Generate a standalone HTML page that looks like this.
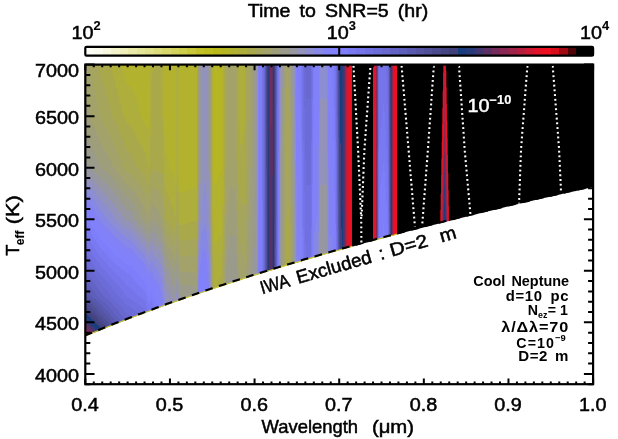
<!DOCTYPE html>
<html><head><meta charset="utf-8"><title>Time to SNR=5</title>
<style>html,body{margin:0;padding:0;background:#fff;overflow:hidden}svg{display:block;will-change:transform}text{font-family:"Liberation Sans",sans-serif;fill:#000}.r text{stroke:#000;stroke-width:0.5px}.r .b{stroke-width:0.15px}</style></head><body>
<svg width="618" height="439" viewBox="0 0 618 439">
<rect width="618" height="439" fill="#fff"/>
<g shape-rendering="crispEdges">
<path fill="#b6b624" d="M214 65v119h1v-119zM215 65v119h1v-119zM216 65v116h1v-116zM217 65v114h1v-114zM218 65v111h1v-111zM219 65v109h1v-109zM220 65v107h1v-107zM221 65v106h1v-106z"/>
<path fill="#b2b22f" d="M122 65v3h1v-3zM123 65v7h1v-7zM124 65v11h1v-11zM125 65v14h1v-14zM126 65v18h1v-18zM127 65v20h1v-20zM128 65v21h1v-21zM129 65v21h1v-21zM130 65v22h1v-22zM131 65v23h1v-23zM132 65v25h1v-25zM133 65v26h1v-26zM134 65v28h1v-28zM135 65v31h1v-31zM136 65v33h1v-33zM137 65v37h1v-37zM138 65v40h1v-40zM139 65v44h1v-44zM140 65v50h1v-50zM141 65v53h1v-53zM142 65v54h1v-54zM143 65v56h1v-56zM144 65v58h1v-58zM145 65v60h1v-60zM146 65v61h1v-61zM147 65v62h1v-62zM148 65v63h1v-63zM149 65v51h1v-51zM164 65v68h1v-68zM165 65v87h1v-87zM166 65v89h1v-89zM167 65v92h1v-92zM168 65v96h1v-96zM169 65v100h1v-100zM170 65v104h1v-104zM171 65v106h1v-106zM172 65v108h1v-108zM173 65v110h1v-110zM174 65v112h1v-112zM175 65v115h1v-115zM179 65v127h1v-127zM180 65v128h1v-128zM181 65v128h1v-128zM182 65v127h1v-127zM183 65v127h1v-127zM184 65v127h1v-127zM185 65v126h1v-126zM186 65v126h1v-126zM187 65v126h1v-126zM188 65v125h1v-125zM189 65v125h1v-125zM190 65v125h1v-125zM191 65v124h1v-124zM192 65v124h1v-124zM193 65v124h1v-124zM194 65v123h1v-123zM195 65v124h1v-124zM196 65v124h1v-124zM213 65v158h1v-158zM214 184v59h1v-59zM215 184v60h1v-60zM216 181v61h1v-61zM217 179v61h1v-61zM218 176v62h1v-62zM219 174v62h1v-62zM220 172v62h1v-62zM221 171v61h1v-61zM222 65v140h1v-140z"/>
<path fill="#aeae3c" d="M110 65v1h1v-1zM111 65v5h1v-5zM112 65v8h1v-8zM113 65v12h1v-12zM114 65v15h1v-15zM115 65v19h1v-19zM116 65v23h1v-23zM117 65v26h1v-26zM118 65v30h1v-30zM119 65v34h1v-34zM120 65v38h1v-38zM121 65v42h1v-42zM122 68v43h1v-43zM123 72v43h1v-43zM124 76v42h1v-42zM125 79v41h1v-41zM126 83v40h1v-40zM127 85v39h1v-39zM128 86v38h1v-38zM129 86v39h1v-39zM130 87v39h1v-39zM131 88v39h1v-39zM132 90v39h1v-39zM133 91v40h1v-40zM134 93v40h1v-40zM135 96v39h1v-39zM136 98v39h1v-39zM137 102v37h1v-37zM138 105v36h1v-36zM139 109v33h1v-33zM140 115v29h1v-29zM141 118v28h1v-28zM142 119v29h1v-29zM143 121v29h1v-29zM144 123v29h1v-29zM145 125v29h1v-29zM146 126v32h1v-32zM147 127v36h1v-36zM148 128v40h1v-40zM149 116v46h1v-46zM150 65v72h1v-72zM151 65v17h1v-17zM152 65v7h1v-7zM161 65v22h1v-22zM162 65v53h1v-53zM163 65v93h1v-93zM164 133v46h1v-46zM165 152v37h1v-37zM166 154v37h1v-37zM167 157v36h1v-36zM168 161v35h1v-35zM169 165v34h1v-34zM170 169v32h1v-32zM171 171v33h1v-33zM172 173v34h1v-34zM173 175v35h1v-35zM174 177v37h1v-37zM175 180v37h1v-37zM176 65v121h1v-121zM177 65v113h1v-113zM178 65v127h1v-127zM179 192v33h1v-33zM180 193v32h1v-32zM181 193v32h1v-32zM182 192v33h1v-33zM183 192v33h1v-33zM184 192v32h1v-32zM185 191v33h1v-33zM186 191v33h1v-33zM187 191v32h1v-32zM188 190v33h1v-33zM189 190v33h1v-33zM190 190v32h1v-32zM191 189v33h1v-33zM192 189v33h1v-33zM193 189v32h1v-32zM194 188v33h1v-33zM195 189v32h1v-32zM196 189v33h1v-33zM212 65v156h1v-156zM213 223v39h1v-39zM214 243v41h1v-41zM215 244v43h1v-43zM216 242v43h1v-43zM217 240v43h1v-43zM218 238v43h1v-43zM219 236v43h1v-43zM220 234v43h1v-43zM221 232v43h1v-43zM222 205v48h1v-48zM223 65v144h1v-144zM239 65v60h1v-60zM240 65v78h1v-78zM241 65v85h1v-85zM242 65v79h1v-79zM243 65v73h1v-73zM244 65v66h1v-66z"/>
<path fill="#a9a94b" d="M99 65v6h1v-6zM100 65v10h1v-10zM101 65v13h1v-13zM102 65v17h1v-17zM103 65v20h1v-20zM104 65v24h1v-24zM105 65v27h1v-27zM106 65v31h1v-31zM107 65v34h1v-34zM108 65v37h1v-37zM109 65v41h1v-41zM110 66v43h1v-43zM111 70v43h1v-43zM112 73v43h1v-43zM113 77v41h1v-41zM114 80v40h1v-40zM115 84v38h1v-38zM116 88v36h1v-36zM117 91v36h1v-36zM118 95v34h1v-34zM119 99v33h1v-33zM120 103v31h1v-31zM121 107v30h1v-30zM122 111v28h1v-28zM123 115v27h1v-27zM124 118v27h1v-27zM125 120v27h1v-27zM126 123v27h1v-27zM127 124v28h1v-28zM128 124v28h1v-28zM129 125v28h1v-28zM130 126v28h1v-28zM131 127v29h1v-29zM132 129v29h1v-29zM133 131v29h1v-29zM134 133v29h1v-29zM135 135v29h1v-29zM136 137v28h1v-28zM137 139v28h1v-28zM138 141v27h1v-27zM139 142v27h1v-27zM140 144v27h1v-27zM141 146v26h1v-26zM142 148v25h1v-25zM143 150v24h1v-24zM144 152v23h1v-23zM145 154v23h1v-23zM146 158v22h1v-22zM147 163v20h1v-20zM148 168v17h1v-17zM149 162v21h1v-21zM150 137v38h1v-38zM151 82v84h1v-84zM152 72v97h1v-97zM153 65v106h1v-106zM154 65v107h1v-107zM155 65v107h1v-107zM156 65v106h1v-106zM157 65v106h1v-106zM158 65v106h1v-106zM159 65v107h1v-107zM160 65v108h1v-108zM161 87v87h1v-87zM162 118v56h1v-56zM163 158v32h1v-32zM164 179v28h1v-28zM165 189v29h1v-29zM166 191v29h1v-29zM167 193v28h1v-28zM168 196v26h1v-26zM169 199v25h1v-25zM170 201v24h1v-24zM171 204v22h1v-22zM172 207v21h1v-21zM173 210v19h1v-19zM174 214v17h1v-17zM175 217v16h1v-16zM176 186v35h1v-35zM177 178v39h1v-39zM178 192v32h1v-32zM179 225v15h1v-15zM180 225v16h1v-16zM181 225v16h1v-16zM182 225v16h1v-16zM183 225v15h1v-15zM184 224v16h1v-16zM185 224v16h1v-16zM186 224v16h1v-16zM187 223v17h1v-17zM188 223v17h1v-17zM189 223v16h1v-16zM190 222v17h1v-17zM191 222v17h1v-17zM192 222v17h1v-17zM193 221v17h1v-17zM194 221v17h1v-17zM195 221v18h1v-18zM196 222v18h1v-18zM212 221v36h1v-36zM213 262v27h1v-27zM214 284v5h1v-5zM215 287v2h1v-2zM216 285v3h1v-3zM217 283v5h1v-5zM218 281v7h1v-7zM219 279v8h1v-8zM220 277v10h1v-10zM221 275v12h1v-12zM222 253v33h1v-33zM223 209v46h1v-46zM224 65v148h1v-148zM225 65v69h1v-69zM237 65v85h1v-85zM238 65v118h1v-118zM239 125v65h1v-65zM240 143v56h1v-56zM241 150v55h1v-55zM242 144v61h1v-61zM243 138v67h1v-67zM244 131v74h1v-74zM245 65v120h1v-120zM286 218v48h1v-48zM287 152v114h1v-114zM288 207v59h1v-59zM289 258v7h1v-7z"/>
<path fill="#a5a55b" d="M90 65v3h1v-3zM91 65v9h1v-9zM92 65v14h1v-14zM93 65v20h1v-20zM94 65v25h1v-25zM95 65v30h1v-30zM96 65v35h1v-35zM97 65v40h1v-40zM98 65v45h1v-45zM99 71v43h1v-43zM100 75v42h1v-42zM101 78v41h1v-41zM102 82v39h1v-39zM103 85v38h1v-38zM104 89v36h1v-36zM105 92v35h1v-35zM106 96v33h1v-33zM107 99v32h1v-32zM108 102v31h1v-31zM109 106v29h1v-29zM110 109v28h1v-28zM111 113v26h1v-26zM112 116v25h1v-25zM113 118v25h1v-25zM114 120v25h1v-25zM115 122v25h1v-25zM116 124v25h1v-25zM117 127v25h1v-25zM118 129v26h1v-26zM119 132v25h1v-25zM120 134v26h1v-26zM121 137v26h1v-26zM122 139v27h1v-27zM123 142v26h1v-26zM124 145v24h1v-24zM125 147v24h1v-24zM126 150v22h1v-22zM127 152v21h1v-21zM128 152v21h1v-21zM129 153v21h1v-21zM130 154v20h1v-20zM131 156v19h1v-19zM132 158v18h1v-18zM133 160v17h1v-17zM134 162v16h1v-16zM135 164v15h1v-15zM136 165v16h1v-16zM137 167v15h1v-15zM138 168v15h1v-15zM139 169v15h1v-15zM140 171v15h1v-15zM141 172v15h1v-15zM142 173v16h1v-16zM143 174v16h1v-16zM144 175v17h1v-17zM145 177v17h1v-17zM146 180v17h1v-17zM147 183v17h1v-17zM148 185v17h1v-17zM149 183v17h1v-17zM150 175v17h1v-17zM151 166v18h1v-18zM152 169v17h1v-17zM153 171v17h1v-17zM154 172v17h1v-17zM155 172v18h1v-18zM156 171v18h1v-18zM157 171v19h1v-19zM158 171v20h1v-20zM159 172v21h1v-21zM160 173v22h1v-22zM161 174v23h1v-23zM162 174v25h1v-25zM163 190v26h1v-26zM164 207v19h1v-19zM165 218v12h1v-12zM166 220v12h1v-12zM167 221v12h1v-12zM168 222v13h1v-13zM169 224v12h1v-12zM170 225v13h1v-13zM171 226v13h1v-13zM172 228v13h1v-13zM173 229v14h1v-14zM174 231v14h1v-14zM175 233v14h1v-14zM176 221v14h1v-14zM177 217v16h1v-16zM178 224v15h1v-15zM179 240v16h1v-16zM180 241v16h1v-16zM181 241v16h1v-16zM182 241v16h1v-16zM183 240v16h1v-16zM184 240v16h1v-16zM185 240v16h1v-16zM186 240v16h1v-16zM187 240v16h1v-16zM188 240v16h1v-16zM189 239v17h1v-17zM190 239v17h1v-17zM191 239v17h1v-17zM192 239v17h1v-17zM193 238v17h1v-17zM194 238v17h1v-17zM195 239v17h1v-17zM196 240v18h1v-18zM197 65v138h1v-138zM211 65v134h1v-134zM212 257v33h1v-33zM223 255v31h1v-31zM224 213v45h1v-45zM225 134v84h1v-84zM226 65v103h1v-103zM227 65v71h1v-71zM236 65v96h1v-96zM237 150v54h1v-54zM238 183v44h1v-44zM239 190v43h1v-43zM240 199v44h1v-44zM241 205v47h1v-47zM242 205v49h1v-49zM243 205v52h1v-52zM244 205v55h1v-55zM245 185v59h1v-59zM246 65v139h1v-139zM247 65v105h1v-105zM248 65v57h1v-57zM284 264v3h1v-3zM285 154v113h1v-113zM286 88v130h1v-130zM287 65v87h1v-87zM288 86v121h1v-121zM289 141v117h1v-117zM290 225v40h1v-40z"/>
<path fill="#a2a26a" d="M86 65v32h1v-32zM87 65v38h1v-38zM88 65v43h1v-43zM89 65v49h1v-49zM90 68v49h1v-49zM91 74v46h1v-46zM92 79v44h1v-44zM93 85v40h1v-40zM94 90v38h1v-38zM95 95v35h1v-35zM96 100v33h1v-33zM97 105v30h1v-30zM98 110v27h1v-27zM99 114v26h1v-26zM100 117v25h1v-25zM101 119v25h1v-25zM102 121v25h1v-25zM103 123v25h1v-25zM104 125v25h1v-25zM105 127v24h1v-24zM106 129v24h1v-24zM107 131v24h1v-24zM108 133v24h1v-24zM109 135v24h1v-24zM110 137v24h1v-24zM111 139v24h1v-24zM112 141v24h1v-24zM113 143v24h1v-24zM114 145v23h1v-23zM115 147v23h1v-23zM116 149v22h1v-22zM117 152v20h1v-20zM118 155v19h1v-19zM119 157v18h1v-18zM120 160v16h1v-16zM121 163v15h1v-15zM122 166v13h1v-13zM123 168v12h1v-12zM124 169v13h1v-13zM125 171v12h1v-12zM126 172v12h1v-12zM127 173v12h1v-12zM128 173v13h1v-13zM129 174v12h1v-12zM130 174v13h1v-13zM131 175v13h1v-13zM132 176v13h1v-13zM133 177v13h1v-13zM134 178v14h1v-14zM135 179v14h1v-14zM136 181v14h1v-14zM137 182v14h1v-14zM138 183v15h1v-15zM139 184v15h1v-15zM140 186v15h1v-15zM141 187v16h1v-16zM142 189v16h1v-16zM143 190v17h1v-17zM144 192v17h1v-17zM145 194v18h1v-18zM146 197v17h1v-17zM147 200v17h1v-17zM148 202v17h1v-17zM149 200v17h1v-17zM150 192v17h1v-17zM151 184v18h1v-18zM152 186v17h1v-17zM153 188v17h1v-17zM154 189v18h1v-18zM155 190v17h1v-17zM156 189v19h1v-19zM157 190v19h1v-19zM158 191v20h1v-20zM159 193v21h1v-21zM160 195v22h1v-22zM161 197v23h1v-23zM162 199v22h1v-22zM163 216v13h1v-13zM164 226v11h1v-11zM165 230v12h1v-12zM166 232v11h1v-11zM167 233v12h1v-12zM168 235v12h1v-12zM169 236v13h1v-13zM170 238v12h1v-12zM171 239v13h1v-13zM172 241v13h1v-13zM173 243v13h1v-13zM174 245v14h1v-14zM175 247v14h1v-14zM176 235v15h1v-15zM177 233v15h1v-15zM178 239v15h1v-15zM179 256v15h1v-15zM180 257v15h1v-15zM181 257v15h1v-15zM182 257v15h1v-15zM183 256v16h1v-16zM184 256v16h1v-16zM185 256v16h1v-16zM186 256v16h1v-16zM187 256v16h1v-16zM188 256v16h1v-16zM189 256v16h1v-16zM190 256v16h1v-16zM191 256v16h1v-16zM192 256v16h1v-16zM193 255v17h1v-17zM194 255v17h1v-17zM195 256v17h1v-17zM196 258v17h1v-17zM197 203v27h1v-27zM211 199v44h1v-44zM224 258v28h1v-28zM225 218v43h1v-43zM226 168v57h1v-57zM227 136v78h1v-78zM228 65v138h1v-138zM229 65v126h1v-126zM230 65v121h1v-121zM231 65v122h1v-122zM232 65v123h1v-123zM233 65v124h1v-124zM234 65v125h1v-125zM235 65v125h1v-125zM236 161v50h1v-50zM237 204v44h1v-44zM238 227v43h1v-43zM239 233v43h1v-43zM240 243v38h1v-38zM241 252v28h1v-28zM242 254v26h1v-26zM243 257v23h1v-23zM244 260v19h1v-19zM245 244v35h1v-35zM246 204v64h1v-64zM247 170v69h1v-69zM248 122v97h1v-97zM249 65v131h1v-131zM250 65v103h1v-103zM284 124v140h1v-140zM285 65v89h1v-89zM286 65v23h1v-23zM288 65v21h1v-21zM289 65v76h1v-76zM290 112v113h1v-113zM291 226v39h1v-39z"/>
<path fill="#9e9e7a" d="M86 97v37h1v-37zM87 103v34h1v-34zM88 108v32h1v-32zM89 114v28h1v-28zM90 117v27h1v-27zM91 120v27h1v-27zM92 123v26h1v-26zM93 125v26h1v-26zM94 128v26h1v-26zM95 130v26h1v-26zM96 133v25h1v-25zM97 135v25h1v-25zM98 137v25h1v-25zM99 140v24h1v-24zM100 142v24h1v-24zM101 144v24h1v-24zM102 146v23h1v-23zM103 148v22h1v-22zM104 150v21h1v-21zM105 151v21h1v-21zM106 153v19h1v-19zM107 155v18h1v-18zM108 157v17h1v-17zM109 159v16h1v-16zM110 161v15h1v-15zM111 163v14h1v-14zM112 165v13h1v-13zM113 167v13h1v-13zM114 168v13h1v-13zM115 170v12h1v-12zM116 171v12h1v-12zM117 172v13h1v-13zM118 174v12h1v-12zM119 175v12h1v-12zM120 176v13h1v-13zM121 178v12h1v-12zM122 179v12h1v-12zM123 180v13h1v-13zM124 182v12h1v-12zM125 183v12h1v-12zM126 184v13h1v-13zM127 185v13h1v-13zM128 186v12h1v-12zM129 186v12h1v-12zM130 187v12h1v-12zM131 188v12h1v-12zM132 189v13h1v-13zM133 190v14h1v-14zM134 192v13h1v-13zM135 193v14h1v-14zM136 195v14h1v-14zM137 196v14h1v-14zM138 198v14h1v-14zM139 199v15h1v-15zM140 201v16h1v-16zM141 203v16h1v-16zM142 205v15h1v-15zM143 207v14h1v-14zM144 209v14h1v-14zM145 212v12h1v-12zM146 214v11h1v-11zM147 217v10h1v-10zM148 219v10h1v-10zM149 217v10h1v-10zM150 209v14h1v-14zM151 202v17h1v-17zM152 203v17h1v-17zM153 205v16h1v-16zM154 207v15h1v-15zM155 207v16h1v-16zM156 208v15h1v-15zM157 209v15h1v-15zM158 211v15h1v-15zM159 214v14h1v-14zM160 217v12h1v-12zM161 220v11h1v-11zM162 221v12h1v-12zM163 229v12h1v-12zM164 237v12h1v-12zM165 242v11h1v-11zM166 243v12h1v-12zM167 245v12h1v-12zM168 247v12h1v-12zM169 249v12h1v-12zM170 250v13h1v-13zM171 252v13h1v-13zM172 254v13h1v-13zM173 256v14h1v-14zM174 259v13h1v-13zM175 261v14h1v-14zM176 250v14h1v-14zM177 248v15h1v-15zM178 254v15h1v-15zM179 271v12h1v-12zM180 272v12h1v-12zM181 272v12h1v-12zM182 272v13h1v-13zM183 272v13h1v-13zM184 272v13h1v-13zM185 272v13h1v-13zM186 272v13h1v-13zM187 272v13h1v-13zM188 272v13h1v-13zM189 272v14h1v-14zM190 272v14h1v-14zM191 272v14h1v-14zM192 272v14h1v-14zM193 272v14h1v-14zM194 272v14h1v-14zM195 273v15h1v-15zM196 275v15h1v-15zM197 230v18h1v-18zM198 65v115h1v-115zM210 65v113h1v-113zM211 243v34h1v-34zM225 261v24h1v-24zM226 225v43h1v-43zM227 214v45h1v-45zM228 203v46h1v-46zM229 191v49h1v-49zM230 186v50h1v-50zM231 187v49h1v-49zM232 188v48h1v-48zM233 189v47h1v-47zM234 190v46h1v-46zM235 190v46h1v-46zM236 211v43h1v-43zM237 248v34h1v-34zM238 270v11h1v-11zM239 276v5h1v-5zM246 268v11h1v-11zM247 239v39h1v-39zM248 219v59h1v-59zM249 196v82h1v-82zM250 168v90h1v-90zM251 65v168h1v-168zM252 65v133h1v-133zM253 65v74h1v-74zM282 240v27h1v-27zM283 134v133h1v-133zM284 65v59h1v-59zM290 65v47h1v-47zM291 116v110h1v-110zM292 202v62h1v-62zM293 260v4h1v-4z"/>
<path fill="#9b9b8b" d="M86 134v29h1v-29zM87 137v28h1v-28zM88 140v27h1v-27zM89 142v26h1v-26zM90 144v25h1v-25zM91 147v23h1v-23zM92 149v21h1v-21zM93 151v20h1v-20zM94 154v18h1v-18zM95 156v17h1v-17zM96 158v16h1v-16zM97 160v15h1v-15zM98 162v14h1v-14zM99 164v13h1v-13zM100 166v12h1v-12zM101 168v11h1v-11zM102 169v11h1v-11zM103 170v11h1v-11zM104 171v11h1v-11zM105 172v11h1v-11zM106 172v12h1v-12zM107 173v12h1v-12zM108 174v12h1v-12zM109 175v12h1v-12zM110 176v12h1v-12zM111 177v12h1v-12zM112 178v12h1v-12zM113 180v12h1v-12zM114 181v12h1v-12zM115 182v12h1v-12zM116 183v12h1v-12zM117 185v12h1v-12zM118 186v12h1v-12zM119 187v13h1v-13zM120 189v12h1v-12zM121 190v12h1v-12zM122 191v13h1v-13zM123 193v12h1v-12zM124 194v12h1v-12zM125 195v13h1v-13zM126 197v12h1v-12zM127 198v12h1v-12zM128 198v12h1v-12zM129 198v12h1v-12zM130 199v12h1v-12zM131 200v13h1v-13zM132 202v13h1v-13zM133 204v13h1v-13zM134 205v14h1v-14zM135 207v13h1v-13zM136 209v12h1v-12zM137 210v12h1v-12zM138 212v12h1v-12zM139 214v11h1v-11zM140 217v9h1v-9zM141 219v8h1v-8zM142 220v8h1v-8zM143 221v9h1v-9zM144 223v8h1v-8zM145 224v8h1v-8zM146 225v9h1v-9zM147 227v9h1v-9zM148 229v9h1v-9zM149 227v10h1v-10zM150 223v10h1v-10zM151 219v10h1v-10zM152 220v10h1v-10zM153 221v11h1v-11zM154 222v11h1v-11zM155 223v11h1v-11zM156 223v12h1v-12zM157 224v12h1v-12zM158 226v12h1v-12zM159 228v11h1v-11zM160 229v12h1v-12zM161 231v12h1v-12zM162 233v11h1v-11zM163 241v11h1v-11zM164 249v11h1v-11zM165 253v12h1v-12zM166 255v12h1v-12zM167 257v12h1v-12zM168 259v12h1v-12zM169 261v13h1v-13zM170 263v14h1v-14zM171 265v15h1v-15zM172 267v16h1v-16zM173 270v15h1v-15zM174 272v15h1v-15zM175 275v14h1v-14zM176 264v14h1v-14zM177 263v14h1v-14zM178 269v13h1v-13zM179 283v13h1v-13zM180 284v13h1v-13zM181 284v13h1v-13zM182 285v12h1v-12zM183 285v13h1v-13zM184 285v13h1v-13zM185 285v14h1v-14zM186 285v14h1v-14zM187 285v13h1v-13zM188 285v13h1v-13zM189 286v12h1v-12zM190 286v11h1v-11zM191 286v11h1v-11zM192 286v11h1v-11zM193 286v10h1v-10zM194 286v10h1v-10zM195 288v7h1v-7zM196 290v5h1v-5zM197 248v19h1v-19zM198 180v38h1v-38zM210 178v53h1v-53zM211 277v13h1v-13zM226 268v17h1v-17zM227 259v26h1v-26zM228 249v35h1v-35zM229 240v43h1v-43zM230 236v43h1v-43zM231 236v43h1v-43zM232 236v43h1v-43zM233 236v43h1v-43zM234 236v43h1v-43zM235 236v43h1v-43zM236 254v28h1v-28zM250 258v19h1v-19zM251 233v44h1v-44zM252 198v79h1v-79zM253 139v137h1v-137zM254 65v183h1v-183zM255 65v112h1v-112zM281 137v131h1v-131zM282 88v152h1v-152zM283 65v69h1v-69zM291 65v51h1v-51zM292 96v106h1v-106zM293 157v103h1v-103z"/>
<path fill="#9797a1" d="M86 163v12h1v-12zM87 165v10h1v-10zM88 167v9h1v-9zM89 168v9h1v-9zM90 169v9h1v-9zM91 170v9h1v-9zM92 170v10h1v-10zM93 171v10h1v-10zM94 172v10h1v-10zM95 173v10h1v-10zM96 174v10h1v-10zM97 175v10h1v-10zM98 176v10h1v-10zM99 177v10h1v-10zM100 178v11h1v-11zM101 179v11h1v-11zM102 180v11h1v-11zM103 181v11h1v-11zM104 182v11h1v-11zM105 183v11h1v-11zM106 184v11h1v-11zM107 185v11h1v-11zM108 186v12h1v-12zM109 187v12h1v-12zM110 188v12h1v-12zM111 189v12h1v-12zM112 190v12h1v-12zM113 192v12h1v-12zM114 193v12h1v-12zM115 194v12h1v-12zM116 195v13h1v-13zM117 197v12h1v-12zM118 198v12h1v-12zM119 200v12h1v-12zM120 201v12h1v-12zM121 202v13h1v-13zM122 204v12h1v-12zM123 205v12h1v-12zM124 206v13h1v-13zM125 208v12h1v-12zM126 209v12h1v-12zM127 210v11h1v-11zM128 210v11h1v-11zM129 210v12h1v-12zM130 211v11h1v-11zM131 213v11h1v-11zM132 215v10h1v-10zM133 217v9h1v-9zM134 219v8h1v-8zM135 220v8h1v-8zM136 221v9h1v-9zM137 222v9h1v-9zM138 224v8h1v-8zM139 225v8h1v-8zM140 226v8h1v-8zM141 227v9h1v-9zM142 228v9h1v-9zM143 230v8h1v-8zM144 231v8h1v-8zM145 232v8h1v-8zM146 234v8h1v-8zM147 236v9h1v-9zM148 238v9h1v-9zM149 237v9h1v-9zM150 233v10h1v-10zM151 229v10h1v-10zM152 230v11h1v-11zM153 232v11h1v-11zM154 233v12h1v-12zM155 234v12h1v-12zM156 235v11h1v-11zM157 236v11h1v-11zM158 238v11h1v-11zM159 239v12h1v-12zM160 241v11h1v-11zM161 243v11h1v-11zM162 244v12h1v-12zM163 252v12h1v-12zM164 260v12h1v-12zM165 265v16h1v-16zM166 267v17h1v-17zM167 269v18h1v-18zM168 271v19h1v-19zM169 274v18h1v-18zM170 277v17h1v-17zM171 280v16h1v-16zM172 283v15h1v-15zM173 285v15h1v-15zM174 287v15h1v-15zM175 289v13h1v-13zM176 278v14h1v-14zM177 277v13h1v-13zM178 282v13h1v-13zM179 296v5h1v-5zM180 297v4h1v-4zM181 297v3h1v-3zM182 297v3h1v-3zM183 298v2h1v-2zM184 298v1h1v-1zM197 267v16h1v-16zM198 218v20h1v-20zM199 65v134h1v-134zM200 65v119h1v-119zM201 65v103h1v-103zM208 65v108h1v-108zM209 65v145h1v-145zM210 231v32h1v-32zM229 283v1h1v-1zM230 279v5h1v-5zM231 279v4h1v-4zM232 279v4h1v-4zM233 279v4h1v-4zM234 279v3h1v-3zM235 279v3h1v-3zM254 248v28h1v-28zM255 177v99h1v-99zM256 65v210h1v-210zM280 148v120h1v-120zM281 65v72h1v-72zM282 65v23h1v-23zM292 65v31h1v-31zM293 65v92h1v-92zM294 164v100h1v-100zM320 185v71h1v-71zM321 185v71h1v-71zM322 185v71h1v-71zM323 185v70h1v-70zM324 185v70h1v-70zM325 185v70h1v-70zM326 185v69h1v-69z"/>
<path fill="#9292ba" d="M86 175v8h1v-8zM87 175v9h1v-9zM88 176v9h1v-9zM89 177v9h1v-9zM90 178v9h1v-9zM91 179v9h1v-9zM92 180v9h1v-9zM93 181v9h1v-9zM94 182v9h1v-9zM95 183v10h1v-10zM96 184v10h1v-10zM97 185v10h1v-10zM98 186v11h1v-11zM99 187v11h1v-11zM100 189v10h1v-10zM101 190v11h1v-11zM102 191v11h1v-11zM103 192v11h1v-11zM104 193v11h1v-11zM105 194v11h1v-11zM106 195v12h1v-12zM107 196v12h1v-12zM108 198v11h1v-11zM109 199v11h1v-11zM110 200v12h1v-12zM111 201v12h1v-12zM112 202v12h1v-12zM113 204v12h1v-12zM114 205v12h1v-12zM115 206v13h1v-13zM116 208v12h1v-12zM117 209v12h1v-12zM118 210v12h1v-12zM119 212v11h1v-11zM120 213v11h1v-11zM121 215v10h1v-10zM122 216v10h1v-10zM123 217v10h1v-10zM124 219v9h1v-9zM125 220v8h1v-8zM126 221v8h1v-8zM127 221v9h1v-9zM128 221v9h1v-9zM129 222v8h1v-8zM130 222v9h1v-9zM131 224v8h1v-8zM132 225v8h1v-8zM133 226v9h1v-9zM134 227v9h1v-9zM135 228v9h1v-9zM136 230v8h1v-8zM137 231v8h1v-8zM138 232v8h1v-8zM139 233v9h1v-9zM140 234v9h1v-9zM141 236v8h1v-8zM142 237v8h1v-8zM143 238v8h1v-8zM144 239v8h1v-8zM145 240v9h1v-9zM146 242v9h1v-9zM147 245v8h1v-8zM148 247v9h1v-9zM149 246v10h1v-10zM150 243v9h1v-9zM151 239v10h1v-10zM152 241v10h1v-10zM153 243v10h1v-10zM154 245v11h1v-11zM155 246v11h1v-11zM156 246v12h1v-12zM157 247v12h1v-12zM158 249v11h1v-11zM159 251v11h1v-11zM160 252v12h1v-12zM161 254v11h1v-11zM162 256v11h1v-11zM163 264v14h1v-14zM164 272v20h1v-20zM165 281v19h1v-19zM166 284v18h1v-18zM167 287v16h1v-16zM168 290v15h1v-15zM169 292v13h1v-13zM170 294v10h1v-10zM171 296v8h1v-8zM172 298v5h1v-5zM173 300v3h1v-3zM174 302v1h1v-1zM176 292v10h1v-10zM177 290v12h1v-12zM178 295v6h1v-6zM197 283v12h1v-12zM198 238v19h1v-19zM199 199v30h1v-30zM200 184v38h1v-38zM201 168v42h1v-42zM202 65v134h1v-134zM203 65v126h1v-126zM204 65v117h1v-117zM205 65v118h1v-118zM206 65v129h1v-129zM207 65v141h1v-141zM208 173v52h1v-52zM209 210v35h1v-35zM210 263v27h1v-27zM257 65v146h1v-146zM280 65v83h1v-83zM294 65v99h1v-99zM295 219v45h1v-45zM319 202v55h1v-55zM320 99v86h1v-86zM321 99v86h1v-86zM322 99v86h1v-86zM323 99v86h1v-86zM324 99v86h1v-86zM325 99v86h1v-86zM326 99v86h1v-86zM327 236v18h1v-18z"/>
<path fill="#8d8dd1" d="M86 183v8h1v-8zM87 184v8h1v-8zM88 185v9h1v-9zM89 186v9h1v-9zM90 187v9h1v-9zM91 188v9h1v-9zM92 189v9h1v-9zM93 190v10h1v-10zM94 191v10h1v-10zM95 193v9h1v-9zM96 194v10h1v-10zM97 195v10h1v-10zM98 197v10h1v-10zM99 198v11h1v-11zM100 199v11h1v-11zM101 201v10h1v-10zM102 202v11h1v-11zM103 203v11h1v-11zM104 204v11h1v-11zM105 205v12h1v-12zM106 207v11h1v-11zM107 208v11h1v-11zM108 209v11h1v-11zM109 210v11h1v-11zM110 212v11h1v-11zM111 213v11h1v-11zM112 214v11h1v-11zM113 216v10h1v-10zM114 217v10h1v-10zM115 219v9h1v-9zM116 220v9h1v-9zM117 221v9h1v-9zM118 222v9h1v-9zM119 223v9h1v-9zM120 224v9h1v-9zM121 225v9h1v-9zM122 226v8h1v-8zM123 227v8h1v-8zM124 228v8h1v-8zM125 228v9h1v-9zM126 229v9h1v-9zM127 230v9h1v-9zM128 230v9h1v-9zM129 230v9h1v-9zM130 231v9h1v-9zM131 232v9h1v-9zM132 233v9h1v-9zM133 235v8h1v-8zM134 236v8h1v-8zM135 237v8h1v-8zM136 238v9h1v-9zM137 239v9h1v-9zM138 240v9h1v-9zM139 242v8h1v-8zM140 243v8h1v-8zM141 244v8h1v-8zM142 245v8h1v-8zM143 246v8h1v-8zM144 247v8h1v-8zM145 249v8h1v-8zM146 251v9h1v-9zM147 253v9h1v-9zM148 256v9h1v-9zM149 256v9h1v-9zM150 252v10h1v-10zM151 249v10h1v-10zM152 251v11h1v-11zM153 253v11h1v-11zM154 256v11h1v-11zM155 257v12h1v-12zM156 258v11h1v-11zM157 259v11h1v-11zM158 260v12h1v-12zM159 262v12h1v-12zM160 264v13h1v-13zM161 265v14h1v-14zM162 267v15h1v-15zM163 278v18h1v-18zM164 292v14h1v-14zM165 300v6h1v-6zM166 302v4h1v-4zM167 303v2h1v-2zM198 257v19h1v-19zM199 229v20h1v-20zM200 222v21h1v-21zM201 210v26h1v-26zM202 199v32h1v-32zM203 191v37h1v-37zM204 182v43h1v-43zM205 183v43h1v-43zM206 194v39h1v-39zM207 206v34h1v-34zM208 225v29h1v-29zM209 245v30h1v-30zM257 211v64h1v-64zM295 123v96h1v-96zM318 232v25h1v-25zM319 116v86h1v-86zM320 65v34h1v-34zM321 65v34h1v-34zM322 65v34h1v-34zM323 65v34h1v-34zM324 65v34h1v-34zM325 65v34h1v-34zM326 65v34h1v-34zM327 151v85h1v-85z"/>
<path fill="#8787e5" d="M86 191v9h1v-9zM87 192v9h1v-9zM88 194v8h1v-8zM89 195v8h1v-8zM90 196v9h1v-9zM91 197v9h1v-9zM92 198v10h1v-10zM93 200v9h1v-9zM94 201v10h1v-10zM95 202v10h1v-10zM96 204v10h1v-10zM97 205v11h1v-11zM98 207v10h1v-10zM99 209v10h1v-10zM100 210v11h1v-11zM101 211v11h1v-11zM102 213v10h1v-10zM103 214v10h1v-10zM104 215v10h1v-10zM105 217v9h1v-9zM106 218v9h1v-9zM107 219v9h1v-9zM108 220v9h1v-9zM109 221v9h1v-9zM110 223v9h1v-9zM111 224v9h1v-9zM112 225v9h1v-9zM113 226v9h1v-9zM114 227v9h1v-9zM115 228v9h1v-9zM116 229v9h1v-9zM117 230v9h1v-9zM118 231v9h1v-9zM119 232v9h1v-9zM120 233v8h1v-8zM121 234v8h1v-8zM122 234v9h1v-9zM123 235v9h1v-9zM124 236v9h1v-9zM125 237v9h1v-9zM126 238v9h1v-9zM127 239v8h1v-8zM128 239v8h1v-8zM129 239v9h1v-9zM130 240v8h1v-8zM131 241v8h1v-8zM132 242v8h1v-8zM133 243v9h1v-9zM134 244v9h1v-9zM135 245v9h1v-9zM136 247v8h1v-8zM137 248v8h1v-8zM138 249v8h1v-8zM139 250v8h1v-8zM140 251v8h1v-8zM141 252v8h1v-8zM142 253v8h1v-8zM143 254v8h1v-8zM144 255v9h1v-9zM145 257v8h1v-8zM146 260v8h1v-8zM147 262v9h1v-9zM148 265v9h1v-9zM149 265v10h1v-10zM150 262v10h1v-10zM151 259v10h1v-10zM152 262v10h1v-10zM153 264v11h1v-11zM154 267v11h1v-11zM155 269v11h1v-11zM156 269v12h1v-12zM157 270v12h1v-12zM158 272v13h1v-13zM159 274v14h1v-14zM160 277v14h1v-14zM161 279v16h1v-16zM162 282v17h1v-17zM163 296v11h1v-11zM198 276v16h1v-16zM199 249v20h1v-20zM200 243v20h1v-20zM201 236v22h1v-22zM202 231v22h1v-22zM203 228v23h1v-23zM204 225v24h1v-24zM205 226v25h1v-25zM206 233v26h1v-26zM207 240v28h1v-28zM208 254v28h1v-28zM209 275v16h1v-16zM279 236v32h1v-32zM295 65v58h1v-58zM296 178v85h1v-85zM297 256v7h1v-7zM314 233v25h1v-25zM315 227v31h1v-31zM316 220v37h1v-37zM317 214v43h1v-43zM318 146v86h1v-86zM319 65v51h1v-51zM327 65v86h1v-86zM328 168v86h1v-86zM329 236v18h1v-18zM330 236v17h1v-17zM331 236v17h1v-17z"/>
<path fill="#8282f6" d="M86 200v8h1v-8zM87 201v8h1v-8zM88 202v9h1v-9zM89 203v9h1v-9zM90 205v9h1v-9zM91 206v9h1v-9zM92 208v9h1v-9zM93 209v10h1v-10zM94 211v9h1v-9zM95 212v10h1v-10zM96 214v10h1v-10zM97 216v9h1v-9zM98 217v10h1v-10zM99 219v9h1v-9zM100 221v9h1v-9zM101 222v9h1v-9zM102 223v9h1v-9zM103 224v9h1v-9zM104 225v9h1v-9zM105 226v9h1v-9zM106 227v9h1v-9zM107 228v9h1v-9zM108 229v9h1v-9zM109 230v10h1v-10zM110 232v9h1v-9zM111 233v9h1v-9zM112 234v9h1v-9zM113 235v9h1v-9zM114 236v9h1v-9zM115 237v9h1v-9zM116 238v9h1v-9zM117 239v9h1v-9zM118 240v9h1v-9zM119 241v8h1v-8zM120 241v9h1v-9zM121 242v9h1v-9zM122 243v9h1v-9zM123 244v9h1v-9zM124 245v9h1v-9zM125 246v9h1v-9zM126 247v8h1v-8zM127 247v9h1v-9zM128 247v9h1v-9zM129 248v8h1v-8zM130 248v9h1v-9zM131 249v9h1v-9zM132 250v9h1v-9zM133 252v8h1v-8zM134 253v8h1v-8zM135 254v8h1v-8zM136 255v8h1v-8zM137 256v8h1v-8zM138 257v8h1v-8zM139 258v9h1v-9zM140 259v9h1v-9zM141 260v9h1v-9zM142 261v9h1v-9zM143 262v9h1v-9zM144 264v8h1v-8zM145 265v9h1v-9zM146 268v9h1v-9zM147 271v10h1v-10zM148 274v10h1v-10zM149 275v10h1v-10zM150 272v10h1v-10zM151 269v10h1v-10zM152 272v10h1v-10zM153 275v11h1v-11zM154 278v11h1v-11zM155 280v11h1v-11zM156 281v11h1v-11zM157 282v13h1v-13zM158 285v13h1v-13zM159 288v13h1v-13zM160 291v13h1v-13zM161 295v12h1v-12zM162 299v8h1v-8zM198 292v2h1v-2zM199 269v17h1v-17zM200 263v19h1v-19zM201 258v20h1v-20zM202 253v22h1v-22zM203 251v23h1v-23zM204 249v24h1v-24zM205 251v25h1v-25zM206 259v25h1v-25zM207 268v23h1v-23zM208 282v9h1v-9zM258 65v210h1v-210zM279 65v171h1v-171zM296 83v95h1v-95zM297 164v92h1v-92zM298 177v86h1v-86zM299 189v73h1v-73zM300 202v60h1v-60zM313 219v39h1v-39zM314 147v86h1v-86zM315 141v86h1v-86zM316 134v86h1v-86zM317 128v86h1v-86zM318 65v81h1v-81zM328 82v86h1v-86zM329 151v85h1v-85zM330 151v85h1v-85zM331 151v85h1v-85zM332 176v77h1v-77zM333 228v24h1v-24z"/>
<path fill="#8181fc" d="M86 208v8h1v-8zM87 209v9h1v-9zM88 211v9h1v-9zM89 212v9h1v-9zM90 214v9h1v-9zM91 215v10h1v-10zM92 217v9h1v-9zM93 219v9h1v-9zM94 220v9h1v-9zM95 222v9h1v-9zM96 224v9h1v-9zM97 225v9h1v-9zM98 227v9h1v-9zM99 228v9h1v-9zM100 230v9h1v-9zM101 231v9h1v-9zM102 232v9h1v-9zM103 233v9h1v-9zM104 234v9h1v-9zM105 235v9h1v-9zM106 236v9h1v-9zM107 237v9h1v-9zM108 238v9h1v-9zM109 240v9h1v-9zM110 241v9h1v-9zM111 242v9h1v-9zM112 243v9h1v-9zM113 244v9h1v-9zM114 245v9h1v-9zM115 246v9h1v-9zM116 247v9h1v-9zM117 248v9h1v-9zM118 249v9h1v-9zM119 249v9h1v-9zM120 250v9h1v-9zM121 251v9h1v-9zM122 252v9h1v-9zM123 253v9h1v-9zM124 254v9h1v-9zM125 255v8h1v-8zM126 255v9h1v-9zM127 256v9h1v-9zM128 256v9h1v-9zM129 256v9h1v-9zM130 257v8h1v-8zM131 258v8h1v-8zM132 259v8h1v-8zM133 260v9h1v-9zM134 261v9h1v-9zM135 262v9h1v-9zM136 263v9h1v-9zM137 264v9h1v-9zM138 265v10h1v-10zM139 267v9h1v-9zM140 268v9h1v-9zM141 269v9h1v-9zM142 270v9h1v-9zM143 271v9h1v-9zM144 272v10h1v-10zM145 274v10h1v-10zM146 277v10h1v-10zM147 281v10h1v-10zM148 284v10h1v-10zM149 285v10h1v-10zM150 282v10h1v-10zM151 279v11h1v-11zM152 282v11h1v-11zM153 286v10h1v-10zM154 289v10h1v-10zM155 291v11h1v-11zM156 292v11h1v-11zM157 295v11h1v-11zM158 298v11h1v-11zM159 301v7h1v-7zM160 304v4h1v-4zM199 286v8h1v-8zM200 282v12h1v-12zM201 278v15h1v-15zM202 275v18h1v-18zM203 274v19h1v-19zM204 273v19h1v-19zM205 276v16h1v-16zM206 284v8h1v-8zM296 65v18h1v-18zM297 72v92h1v-92zM298 88v89h1v-89zM299 102v87h1v-87zM300 116v86h1v-86zM301 219v43h1v-43zM313 133v86h1v-86zM314 65v82h1v-82zM315 65v76h1v-76zM316 65v69h1v-69zM317 65v63h1v-63zM328 65v17h1v-17zM329 65v86h1v-86zM330 65v86h1v-86zM331 65v86h1v-86zM332 90v86h1v-86zM333 142v86h1v-86zM334 193v59h1v-59zM382 235v4h1v-4zM383 224v15h1v-15zM384 232v6h1v-6z"/>
<path fill="#7e7efb" d="M86 216v10h1v-10zM87 218v9h1v-9zM88 220v9h1v-9zM89 221v10h1v-10zM90 223v9h1v-9zM91 225v9h1v-9zM92 226v9h1v-9zM93 228v9h1v-9zM94 229v10h1v-10zM95 231v9h1v-9zM96 233v9h1v-9zM97 234v9h1v-9zM98 236v9h1v-9zM99 237v10h1v-10zM100 239v9h1v-9zM101 240v9h1v-9zM102 241v9h1v-9zM103 242v9h1v-9zM104 243v9h1v-9zM105 244v9h1v-9zM106 245v9h1v-9zM107 246v9h1v-9zM108 247v10h1v-10zM109 249v9h1v-9zM110 250v9h1v-9zM111 251v9h1v-9zM112 252v9h1v-9zM113 253v9h1v-9zM114 254v9h1v-9zM115 255v9h1v-9zM116 256v9h1v-9zM117 257v9h1v-9zM118 258v8h1v-8zM119 258v9h1v-9zM120 259v9h1v-9zM121 260v9h1v-9zM122 261v9h1v-9zM123 262v8h1v-8zM124 263v8h1v-8zM125 263v9h1v-9zM126 264v9h1v-9zM127 265v9h1v-9zM128 265v9h1v-9zM129 265v9h1v-9zM130 265v10h1v-10zM131 266v11h1v-11zM132 267v11h1v-11zM133 269v10h1v-10zM134 270v11h1v-11zM135 271v11h1v-11zM136 272v11h1v-11zM137 273v11h1v-11zM138 275v10h1v-10zM139 276v10h1v-10zM140 277v10h1v-10zM141 278v10h1v-10zM142 279v10h1v-10zM143 280v10h1v-10zM144 282v9h1v-9zM145 284v9h1v-9zM146 287v10h1v-10zM147 291v9h1v-9zM148 294v9h1v-9zM149 295v9h1v-9zM150 292v10h1v-10zM151 290v10h1v-10zM152 293v10h1v-10zM153 296v10h1v-10zM154 299v10h1v-10zM155 302v8h1v-8zM156 303v6h1v-6zM157 306v3h1v-3zM259 65v210h1v-210zM260 65v209h1v-209zM261 65v209h1v-209zM278 153v116h1v-116zM297 65v7h1v-7zM298 65v23h1v-23zM299 65v37h1v-37zM300 65v51h1v-51zM301 133v86h1v-86zM302 236v25h1v-25zM312 185v74h1v-74zM313 65v68h1v-68zM332 65v25h1v-25zM333 65v77h1v-77zM334 108v85h1v-85zM335 224v28h1v-28zM379 209v31h1v-31zM380 186v53h1v-53zM381 179v60h1v-60zM382 172v63h1v-63zM383 165v59h1v-59zM384 171v61h1v-61zM385 188v50h1v-50zM386 205v33h1v-33zM387 224v14h1v-14z"/>
<path fill="#7979f2" d="M86 226v9h1v-9zM87 227v10h1v-10zM88 229v9h1v-9zM89 231v9h1v-9zM90 232v10h1v-10zM91 234v9h1v-9zM92 235v10h1v-10zM93 237v9h1v-9zM94 239v9h1v-9zM95 240v9h1v-9zM96 242v9h1v-9zM97 243v10h1v-10zM98 245v9h1v-9zM99 247v9h1v-9zM100 248v9h1v-9zM101 249v9h1v-9zM102 250v9h1v-9zM103 251v9h1v-9zM104 252v9h1v-9zM105 253v9h1v-9zM106 254v9h1v-9zM107 255v9h1v-9zM108 257v9h1v-9zM109 258v9h1v-9zM110 259v9h1v-9zM111 260v9h1v-9zM112 261v9h1v-9zM113 262v9h1v-9zM114 263v9h1v-9zM115 264v9h1v-9zM116 265v9h1v-9zM117 266v9h1v-9zM118 266v10h1v-10zM119 267v10h1v-10zM120 268v10h1v-10zM121 269v10h1v-10zM122 270v10h1v-10zM123 270v11h1v-11zM124 271v12h1v-12zM125 272v12h1v-12zM126 273v12h1v-12zM127 274v12h1v-12zM128 274v12h1v-12zM129 274v13h1v-13zM130 275v12h1v-12zM131 277v12h1v-12zM132 278v12h1v-12zM133 279v12h1v-12zM134 281v11h1v-11zM135 282v11h1v-11zM136 283v11h1v-11zM137 284v11h1v-11zM138 285v11h1v-11zM139 286v11h1v-11zM140 287v10h1v-10zM141 288v10h1v-10zM142 289v10h1v-10zM143 290v10h1v-10zM144 291v9h1v-9zM145 293v9h1v-9zM146 297v9h1v-9zM147 300v9h1v-9zM148 303v9h1v-9zM149 304v8h1v-8zM150 302v9h1v-9zM151 300v9h1v-9zM152 303v8h1v-8zM153 306v4h1v-4zM154 309v1h1v-1zM262 202v72h1v-72zM278 65v88h1v-88zM301 65v68h1v-68zM302 151v85h1v-85zM303 228v33h1v-33zM311 228v31h1v-31zM312 99v86h1v-86zM334 65v43h1v-43zM335 138v86h1v-86zM379 143v66h1v-66zM380 129v57h1v-57zM381 122v57h1v-57zM382 114v58h1v-58zM383 104v61h1v-61zM384 112v59h1v-59zM385 130v58h1v-58zM386 148v57h1v-57zM387 165v59h1v-59z"/>
<path fill="#7575e9" d="M86 235v10h1v-10zM87 237v9h1v-9zM88 238v10h1v-10zM89 240v9h1v-9zM90 242v9h1v-9zM91 243v10h1v-10zM92 245v9h1v-9zM93 246v10h1v-10zM94 248v9h1v-9zM95 249v10h1v-10zM96 251v9h1v-9zM97 253v9h1v-9zM98 254v9h1v-9zM99 256v9h1v-9zM100 257v9h1v-9zM101 258v9h1v-9zM102 259v9h1v-9zM103 260v9h1v-9zM104 261v9h1v-9zM105 262v9h1v-9zM106 263v9h1v-9zM107 264v10h1v-10zM108 266v9h1v-9zM109 267v9h1v-9zM110 268v9h1v-9zM111 269v9h1v-9zM112 270v9h1v-9zM113 271v9h1v-9zM114 272v10h1v-10zM115 273v10h1v-10zM116 274v10h1v-10zM117 275v10h1v-10zM118 276v10h1v-10zM119 277v10h1v-10zM120 278v10h1v-10zM121 279v11h1v-11zM122 280v11h1v-11zM123 281v11h1v-11zM124 283v11h1v-11zM125 284v11h1v-11zM126 285v12h1v-12zM127 286v11h1v-11zM128 286v12h1v-12zM129 287v11h1v-11zM130 287v12h1v-12zM131 289v10h1v-10zM132 290v10h1v-10zM133 291v10h1v-10zM134 292v10h1v-10zM135 293v9h1v-9zM136 294v9h1v-9zM137 295v9h1v-9zM138 296v8h1v-8zM139 297v8h1v-8zM140 297v9h1v-9zM141 298v9h1v-9zM142 299v8h1v-8zM143 300v8h1v-8zM144 300v9h1v-9zM145 302v9h1v-9zM146 306v7h1v-7zM147 309v4h1v-4zM151 309v2h1v-2zM262 65v137h1v-137zM277 261v8h1v-8zM302 65v86h1v-86zM303 142v86h1v-86zM304 193v68h1v-68zM305 245v16h1v-16zM311 142v86h1v-86zM312 65v34h1v-34zM335 65v73h1v-73zM336 232v20h1v-20zM379 65v78h1v-78zM380 65v64h1v-64zM381 65v57h1v-57zM382 65v49h1v-49zM383 65v39h1v-39zM384 65v47h1v-47zM385 65v65h1v-65zM386 77v71h1v-71zM387 103v62h1v-62z"/>
<path fill="#7070e1" d="M86 245v9h1v-9zM87 246v10h1v-10zM88 248v9h1v-9zM89 249v10h1v-10zM90 251v9h1v-9zM91 253v9h1v-9zM92 254v9h1v-9zM93 256v9h1v-9zM94 257v9h1v-9zM95 259v9h1v-9zM96 260v9h1v-9zM97 262v9h1v-9zM98 263v9h1v-9zM99 265v9h1v-9zM100 266v9h1v-9zM101 267v9h1v-9zM102 268v9h1v-9zM103 269v9h1v-9zM104 270v9h1v-9zM105 271v9h1v-9zM106 272v9h1v-9zM107 274v9h1v-9zM108 275v9h1v-9zM109 276v9h1v-9zM110 277v9h1v-9zM111 278v9h1v-9zM112 279v10h1v-10zM113 280v10h1v-10zM114 282v9h1v-9zM115 283v9h1v-9zM116 284v10h1v-10zM117 285v10h1v-10zM118 286v10h1v-10zM119 287v10h1v-10zM120 288v10h1v-10zM121 290v9h1v-9zM122 291v9h1v-9zM123 292v9h1v-9zM124 294v9h1v-9zM125 295v9h1v-9zM126 297v8h1v-8zM127 297v9h1v-9zM128 298v8h1v-8zM129 298v9h1v-9zM130 299v8h1v-8zM131 299v9h1v-9zM132 300v9h1v-9zM133 301v8h1v-8zM134 302v8h1v-8zM135 302v9h1v-9zM136 303v9h1v-9zM137 304v8h1v-8zM138 304v9h1v-9zM139 305v9h1v-9zM140 306v9h1v-9zM141 307v8h1v-8zM142 307v7h1v-7zM143 308v6h1v-6zM144 309v5h1v-5zM145 311v2h1v-2zM263 65v208h1v-208zM277 65v196h1v-196zM303 65v77h1v-77zM304 108v85h1v-85zM305 159v86h1v-86zM306 185v75h1v-75zM307 185v75h1v-75zM308 185v75h1v-75zM309 185v74h1v-74zM310 185v74h1v-74zM311 65v77h1v-77zM336 146v86h1v-86zM378 151v89h1v-89zM386 65v12h1v-12zM387 65v38h1v-38zM388 184v53h1v-53z"/>
<path fill="#6c6cd8" d="M86 254v10h1v-10zM87 256v9h1v-9zM88 257v10h1v-10zM89 259v9h1v-9zM90 260v10h1v-10zM91 262v9h1v-9zM92 263v9h1v-9zM93 265v9h1v-9zM94 266v9h1v-9zM95 268v8h1v-8zM96 269v9h1v-9zM97 271v8h1v-8zM98 272v9h1v-9zM99 274v8h1v-8zM100 275v8h1v-8zM101 276v9h1v-9zM102 277v9h1v-9zM103 278v9h1v-9zM104 279v9h1v-9zM105 280v9h1v-9zM106 281v9h1v-9zM107 283v9h1v-9zM108 284v9h1v-9zM109 285v9h1v-9zM110 286v9h1v-9zM111 287v10h1v-10zM112 289v9h1v-9zM113 290v9h1v-9zM114 291v9h1v-9zM115 292v9h1v-9zM116 294v8h1v-8zM117 295v8h1v-8zM118 296v8h1v-8zM119 297v8h1v-8zM120 298v8h1v-8zM121 299v8h1v-8zM122 300v8h1v-8zM123 301v8h1v-8zM124 303v8h1v-8zM125 304v8h1v-8zM126 305v8h1v-8zM127 306v8h1v-8zM128 306v9h1v-9zM129 307v9h1v-9zM130 307v10h1v-10zM131 308v10h1v-10zM132 309v9h1v-9zM133 309v9h1v-9zM134 310v7h1v-7zM135 311v6h1v-6zM136 312v5h1v-5zM137 312v4h1v-4zM138 313v3h1v-3zM139 314v2h1v-2zM304 65v43h1v-43zM305 73v86h1v-86zM306 99v86h1v-86zM307 99v86h1v-86zM308 99v86h1v-86zM309 99v86h1v-86zM310 99v86h1v-86zM336 65v81h1v-81zM378 65v86h1v-86zM388 120v64h1v-64z"/>
<path fill="#6868ce" d="M86 264v9h1v-9zM87 265v9h1v-9zM88 267v8h1v-8zM89 268v9h1v-9zM90 270v8h1v-8zM91 271v8h1v-8zM92 272v9h1v-9zM93 274v8h1v-8zM94 275v8h1v-8zM95 276v9h1v-9zM96 278v8h1v-8zM97 279v9h1v-9zM98 281v8h1v-8zM99 282v9h1v-9zM100 283v9h1v-9zM101 285v8h1v-8zM102 286v8h1v-8zM103 287v9h1v-9zM104 288v9h1v-9zM105 289v9h1v-9zM106 290v8h1v-8zM107 292v7h1v-7zM108 293v7h1v-7zM109 294v7h1v-7zM110 295v7h1v-7zM111 297v6h1v-6zM112 298v6h1v-6zM113 299v7h1v-7zM114 300v7h1v-7zM115 301v7h1v-7zM116 302v7h1v-7zM117 303v7h1v-7zM118 304v7h1v-7zM119 305v8h1v-8zM120 306v8h1v-8zM121 307v8h1v-8zM122 308v8h1v-8zM123 309v8h1v-8zM124 311v8h1v-8zM125 312v9h1v-9zM126 313v7h1v-7zM127 314v6h1v-6zM128 315v5h1v-5zM129 316v3h1v-3zM130 317v2h1v-2zM131 318v1h1v-1zM264 65v208h1v-208zM305 65v8h1v-8zM306 65v34h1v-34zM307 65v34h1v-34zM308 65v34h1v-34zM309 65v34h1v-34zM310 65v34h1v-34zM337 202v49h1v-49zM388 65v55h1v-55z"/>
<path fill="#6363c5" d="M86 273v8h1v-8zM87 274v8h1v-8zM88 275v8h1v-8zM89 277v8h1v-8zM90 278v8h1v-8zM91 279v8h1v-8zM92 281v8h1v-8zM93 282v8h1v-8zM94 283v9h1v-9zM95 285v8h1v-8zM96 286v9h1v-9zM97 288v8h1v-8zM98 289v8h1v-8zM99 291v7h1v-7zM100 292v7h1v-7zM101 293v7h1v-7zM102 294v7h1v-7zM103 296v6h1v-6zM104 297v5h1v-5zM105 298v5h1v-5zM106 298v6h1v-6zM107 299v6h1v-6zM108 300v6h1v-6zM109 301v7h1v-7zM110 302v7h1v-7zM111 303v7h1v-7zM112 304v7h1v-7zM113 306v7h1v-7zM114 307v7h1v-7zM115 308v7h1v-7zM116 309v7h1v-7zM117 310v7h1v-7zM118 311v7h1v-7zM119 313v6h1v-6zM120 314v7h1v-7zM121 315v7h1v-7zM122 316v6h1v-6zM123 317v5h1v-5zM124 319v2h1v-2zM276 106v163h1v-163zM337 116v86h1v-86z"/>
<path fill="#5e5ebb" d="M86 281v7h1v-7zM87 282v8h1v-8zM88 283v8h1v-8zM89 285v8h1v-8zM90 286v8h1v-8zM91 287v9h1v-9zM92 289v8h1v-8zM93 290v8h1v-8zM94 292v6h1v-6zM95 293v6h1v-6zM96 295v5h1v-5zM97 296v5h1v-5zM98 297v5h1v-5zM99 298v5h1v-5zM100 299v5h1v-5zM101 300v5h1v-5zM102 301v5h1v-5zM103 302v5h1v-5zM104 302v6h1v-6zM105 303v6h1v-6zM106 304v6h1v-6zM107 305v6h1v-6zM108 306v7h1v-7zM109 308v5h1v-5zM110 309v6h1v-6zM111 310v6h1v-6zM112 311v6h1v-6zM113 313v5h1v-5zM114 314v5h1v-5zM115 315v6h1v-6zM116 316v6h1v-6zM117 317v6h1v-6zM118 318v6h1v-6zM119 319v4h1v-4zM120 321v2h1v-2zM276 65v41h1v-41zM337 65v51h1v-51zM389 213v24h1v-24z"/>
<path fill="#5959b0" d="M86 288v8h1v-8zM87 290v7h1v-7zM88 291v7h1v-7zM89 293v6h1v-6zM90 294v5h1v-5zM91 296v4h1v-4zM92 297v4h1v-4zM93 298v4h1v-4zM94 298v5h1v-5zM95 299v5h1v-5zM96 300v5h1v-5zM97 301v5h1v-5zM98 302v5h1v-5zM99 303v5h1v-5zM100 304v5h1v-5zM101 305v5h1v-5zM102 306v5h1v-5zM103 307v5h1v-5zM104 308v5h1v-5zM105 309v5h1v-5zM106 310v5h1v-5zM107 311v5h1v-5zM108 313v4h1v-4zM109 313v5h1v-5zM110 315v5h1v-5zM111 316v5h1v-5zM112 317v5h1v-5zM113 318v5h1v-5zM114 319v5h1v-5zM115 321v4h1v-4zM116 322v2h1v-2zM117 323v1h1v-1zM265 65v208h1v-208zM338 230v21h1v-21zM389 131v82h1v-82z"/>
<path fill="#5555a4" d="M86 296v4h1v-4zM87 297v4h1v-4zM88 298v4h1v-4zM89 299v3h1v-3zM90 299v4h1v-4zM91 300v4h1v-4zM92 301v4h1v-4zM93 302v4h1v-4zM94 303v4h1v-4zM95 304v4h1v-4zM96 305v4h1v-4zM97 306v5h1v-5zM98 307v5h1v-5zM99 308v5h1v-5zM100 309v5h1v-5zM101 310v5h1v-5zM102 311v5h1v-5zM103 312v5h1v-5zM104 313v5h1v-5zM105 314v5h1v-5zM106 315v5h1v-5zM107 316v5h1v-5zM108 317v5h1v-5zM109 318v5h1v-5zM110 320v4h1v-4zM111 321v4h1v-4zM112 322v4h1v-4zM113 323v3h1v-3zM114 324v1h1v-1zM275 242v28h1v-28zM338 138v92h1v-92zM377 149v91h1v-91zM389 65v66h1v-66z"/>
<path fill="#505099" d="M86 300v4h1v-4zM87 301v3h1v-3zM88 302v3h1v-3zM89 302v4h1v-4zM90 303v4h1v-4zM91 304v4h1v-4zM92 305v4h1v-4zM93 306v4h1v-4zM94 307v4h1v-4zM95 308v5h1v-5zM96 309v5h1v-5zM97 311v4h1v-4zM98 312v4h1v-4zM99 313v4h1v-4zM100 314v4h1v-4zM101 315v4h1v-4zM102 316v4h1v-4zM103 317v4h1v-4zM104 318v4h1v-4zM105 319v4h1v-4zM106 320v4h1v-4zM107 321v4h1v-4zM108 322v4h1v-4zM109 323v4h1v-4zM110 324v3h1v-3zM111 325v1h1v-1zM266 170v102h1v-102zM275 65v177h1v-177zM338 65v73h1v-73zM377 65v84h1v-84z"/>
<path fill="#4a4a8f" d="M86 304v3h1v-3zM87 304v4h1v-4zM88 305v4h1v-4zM89 306v4h1v-4zM90 307v4h1v-4zM91 308v4h1v-4zM92 309v4h1v-4zM93 310v4h1v-4zM94 311v4h1v-4zM95 313v3h1v-3zM96 314v3h1v-3zM97 315v3h1v-3zM98 316v4h1v-4zM99 317v4h1v-4zM100 318v4h1v-4zM101 319v4h1v-4zM102 320v4h1v-4zM103 321v3h1v-3zM104 322v3h1v-3zM105 323v3h1v-3zM106 324v3h1v-3zM107 325v3h1v-3zM108 326v2h1v-2zM266 65v105h1v-105zM339 191v60h1v-60z"/>
<path fill="#454584" d="M86 307v4h1v-4zM87 308v4h1v-4zM88 309v4h1v-4zM89 310v4h1v-4zM90 311v4h1v-4zM91 312v4h1v-4zM92 313v4h1v-4zM93 314v4h1v-4zM94 315v4h1v-4zM95 316v4h1v-4zM96 317v4h1v-4zM97 318v4h1v-4zM98 320v3h1v-3zM99 321v3h1v-3zM100 322v3h1v-3zM101 323v3h1v-3zM102 324v3h1v-3zM103 324v4h1v-4zM104 325v4h1v-4zM105 326v3h1v-3zM106 327v1h1v-1zM274 219v51h1v-51zM339 86v105h1v-105zM390 142v95h1v-95z"/>
<path fill="#40407a" d="M86 311v3h1v-3zM87 312v3h1v-3zM88 313v3h1v-3zM89 314v3h1v-3zM90 315v3h1v-3zM91 316v3h1v-3zM92 317v3h1v-3zM93 318v3h1v-3zM94 319v3h1v-3zM95 320v3h1v-3zM96 321v3h1v-3zM97 322v3h1v-3zM98 323v3h1v-3zM99 324v3h1v-3zM100 325v3h1v-3zM101 326v3h1v-3zM102 327v3h1v-3zM103 328v2h1v-2zM267 65v207h1v-207zM274 65v154h1v-154zM339 65v21h1v-21zM340 143v108h1v-108zM341 229v21h1v-21zM390 65v77h1v-77zM444 221v2h1v-2z"/>
<path fill="#173d7f" d="M86 314v4h1v-4zM87 315v4h1v-4zM88 316v4h1v-4zM89 317v4h1v-4zM90 318v4h1v-4zM91 319v4h1v-4zM92 320v4h1v-4zM93 321v4h1v-4zM94 322v4h1v-4zM95 323v4h1v-4zM96 324v4h1v-4zM97 325v4h1v-4zM98 326v4h1v-4zM99 327v4h1v-4zM100 328v3h1v-3zM101 329v1h1v-1zM273 217v53h1v-53zM340 65v78h1v-78zM341 76v153h1v-153zM342 212v38h1v-38zM444 205v16h1v-16z"/>
<path fill="#273b7a" d="M86 318v3h1v-3zM87 319v3h1v-3zM88 320v3h1v-3zM89 321v3h1v-3zM90 322v3h1v-3zM91 323v3h1v-3zM92 324v3h1v-3zM93 325v3h1v-3zM94 326v3h1v-3zM95 327v3h1v-3zM96 328v3h1v-3zM97 329v3h1v-3zM98 330v2h1v-2zM268 65v207h1v-207zM273 65v152h1v-152zM341 65v11h1v-11zM342 65v147h1v-147zM391 194v42h1v-42zM444 188v17h1v-17zM445 216v6h1v-6z"/>
<path fill="#423670" d="M86 321v3h1v-3zM87 322v3h1v-3zM88 323v3h1v-3zM89 324v3h1v-3zM90 325v3h1v-3zM91 326v3h1v-3zM92 327v3h1v-3zM93 328v3h1v-3zM94 329v3h1v-3zM95 330v3h1v-3zM96 331v1h1v-1zM269 209v62h1v-62zM272 175v96h1v-96zM343 65v185h1v-185zM391 65v129h1v-129zM443 220v3h1v-3zM444 172v16h1v-16zM445 200v16h1v-16z"/>
<path fill="#5b3165" d="M86 324v3h1v-3zM87 325v3h1v-3zM88 326v3h1v-3zM89 327v3h1v-3zM90 328v3h1v-3zM91 329v3h1v-3zM92 330v3h1v-3zM93 331v3h1v-3zM94 332v1h1v-1zM269 65v144h1v-144zM270 130v141h1v-141zM271 124v147h1v-147zM272 65v110h1v-110zM344 65v184h1v-184zM443 204v16h1v-16zM444 155v17h1v-17zM445 183v17h1v-17z"/>
<path fill="#742c5c" d="M86 327v3h1v-3zM87 328v3h1v-3zM88 329v2h1v-2zM89 330v2h1v-2zM90 331v2h1v-2zM91 332v2h1v-2zM92 333v1h1v-1zM270 65v65h1v-65zM271 65v59h1v-59zM443 187v17h1v-17zM444 139v16h1v-16zM445 167v16h1v-16zM446 218v4h1v-4z"/>
<path fill="#8b2753" d="M86 330v2h1v-2zM87 331v2h1v-2zM88 331v3h1v-3zM89 332v3h1v-3zM90 333v2h1v-2zM345 65v184h1v-184zM376 65v176h1v-176zM392 65v171h1v-171zM442 222v1h1v-1zM443 171v16h1v-16zM444 123v16h1v-16zM445 151v16h1v-16zM446 202v16h1v-16z"/>
<path fill="#a12349" d="M86 332v3h1v-3zM87 333v3h1v-3zM88 334v2h1v-2zM442 206v16h1v-16zM443 155v16h1v-16zM444 106v17h1v-17zM445 134v17h1v-17zM446 185v17h1v-17z"/>
<path fill="#b61e3f" d="M86 335v1h1v-1zM346 65v184h1v-184zM442 189v17h1v-17zM443 138v17h1v-17zM444 90v16h1v-16zM445 118v16h1v-16zM446 169v16h1v-16zM447 220v2h1v-2z"/>
<path fill="#cc1934" d="M347 65v184h1v-184zM393 65v171h1v-171zM442 173v16h1v-16zM443 122v16h1v-16zM444 74v16h1v-16zM445 101v17h1v-17zM446 153v16h1v-16zM447 204v16h1v-16z"/>
<path fill="#e1142a" d="M348 65v183h1v-183zM374 65v176h1v-176zM375 65v176h1v-176zM441 208v15h1v-15zM442 157v16h1v-16zM443 106v16h1v-16zM444 65v9h1v-9zM445 85v16h1v-16zM446 136v17h1v-17zM447 187v17h1v-17z"/>
<path fill="#ec1021" d="M349 65v183h1v-183zM350 65v183h1v-183zM351 65v182h1v-182zM373 65v176h1v-176zM394 65v171h1v-171zM395 65v170h1v-170zM396 65v170h1v-170zM441 192v16h1v-16zM442 140v17h1v-17zM443 89v17h1v-17zM445 69v16h1v-16zM446 120v16h1v-16zM447 171v16h1v-16z"/>
<path fill="#d80e1c" d="M441 175v17h1v-17zM442 124v16h1v-16zM443 73v16h1v-16zM445 65v4h1v-4zM446 104v16h1v-16zM447 155v16h1v-16zM448 206v16h1v-16z"/>
<path fill="#a10a12" d="M440 210v14h1v-14zM441 159v16h1v-16zM442 108v16h1v-16zM443 65v8h1v-8zM446 87v17h1v-17zM447 138v17h1v-17zM448 190v16h1v-16z"/>
<path fill="#510408" d="M440 194v16h1v-16zM441 142v17h1v-17zM442 91v17h1v-17zM446 71v16h1v-16zM447 122v16h1v-16zM448 173v17h1v-17z"/>
<path fill="#000000" d="M440 177v17h1v-17zM441 126v16h1v-16zM442 75v16h1v-16zM446 65v6h1v-6zM447 106v16h1v-16zM448 157v16h1v-16zM449 208v13h1v-13z"/>
<path fill="#000000" d="M352 65v182h1v-182zM353 65v182h1v-182zM354 65v182h1v-182zM355 65v181h1v-181zM356 65v181h1v-181zM357 65v181h1v-181zM358 65v180h1v-180zM359 65v180h1v-180zM360 65v180h1v-180zM361 65v180h1v-180zM362 65v179h1v-179zM363 65v179h1v-179zM364 65v179h1v-179zM365 65v179h1v-179zM366 65v178h1v-178zM367 65v178h1v-178zM368 65v178h1v-178zM369 65v177h1v-177zM370 65v177h1v-177zM371 65v177h1v-177zM372 65v177h1v-177zM397 65v170h1v-170zM398 65v170h1v-170zM399 65v169h1v-169zM400 65v169h1v-169zM401 65v169h1v-169zM402 65v169h1v-169zM403 65v168h1v-168zM404 65v168h1v-168zM405 65v168h1v-168zM406 65v168h1v-168zM407 65v167h1v-167zM408 65v167h1v-167zM409 65v167h1v-167zM410 65v166h1v-166zM411 65v166h1v-166zM412 65v166h1v-166zM413 65v166h1v-166zM414 65v165h1v-165zM415 65v165h1v-165zM416 65v165h1v-165zM417 65v165h1v-165zM418 65v164h1v-164zM419 65v164h1v-164zM420 65v164h1v-164zM421 65v164h1v-164zM422 65v163h1v-163zM423 65v163h1v-163zM424 65v163h1v-163zM425 65v163h1v-163zM426 65v162h1v-162zM427 65v162h1v-162zM428 65v162h1v-162zM429 65v162h1v-162zM430 65v161h1v-161zM431 65v161h1v-161zM432 65v161h1v-161zM433 65v161h1v-161zM434 65v160h1v-160zM435 65v160h1v-160zM436 65v160h1v-160zM437 65v160h1v-160zM438 65v159h1v-159zM439 65v159h1v-159zM440 65v112h1v-112zM441 65v61h1v-61zM442 65v10h1v-10zM447 65v41h1v-41zM448 65v92h1v-92zM449 65v143h1v-143zM450 65v156h1v-156zM451 65v156h1v-156zM452 65v156h1v-156zM453 65v155h1v-155zM454 65v155h1v-155zM455 65v155h1v-155zM456 65v155h1v-155zM457 65v154h1v-154zM458 65v154h1v-154zM459 65v154h1v-154zM460 65v154h1v-154zM461 65v153h1v-153zM462 65v153h1v-153zM463 65v153h1v-153zM464 65v153h1v-153zM465 65v152h1v-152zM466 65v152h1v-152zM467 65v152h1v-152zM468 65v152h1v-152zM469 65v151h1v-151zM470 65v151h1v-151zM471 65v151h1v-151zM472 65v151h1v-151zM473 65v151h1v-151zM474 65v150h1v-150zM475 65v150h1v-150zM476 65v150h1v-150zM477 65v150h1v-150zM478 65v149h1v-149zM479 65v149h1v-149zM480 65v149h1v-149zM481 65v149h1v-149zM482 65v148h1v-148zM483 65v148h1v-148zM484 65v148h1v-148zM485 65v148h1v-148zM486 65v147h1v-147zM487 65v147h1v-147zM488 65v147h1v-147zM489 65v147h1v-147zM490 65v146h1v-146zM491 65v146h1v-146zM492 65v146h1v-146zM493 65v146h1v-146zM494 65v145h1v-145zM495 65v145h1v-145zM496 65v145h1v-145zM497 65v145h1v-145zM498 65v144h1v-144zM499 65v144h1v-144zM500 65v144h1v-144zM501 65v144h1v-144zM502 65v143h1v-143zM503 65v143h1v-143zM504 65v143h1v-143zM505 65v143h1v-143zM506 65v143h1v-143zM507 65v142h1v-142zM508 65v142h1v-142zM509 65v142h1v-142zM510 65v142h1v-142zM511 65v141h1v-141zM512 65v141h1v-141zM513 65v141h1v-141zM514 65v141h1v-141zM515 65v140h1v-140zM516 65v140h1v-140zM517 65v140h1v-140zM518 65v140h1v-140zM519 65v139h1v-139zM520 65v139h1v-139zM521 65v139h1v-139zM522 65v139h1v-139zM523 65v138h1v-138zM524 65v138h1v-138zM525 65v138h1v-138zM526 65v138h1v-138zM527 65v138h1v-138zM528 65v137h1v-137zM529 65v137h1v-137zM530 65v137h1v-137zM531 65v137h1v-137zM532 65v136h1v-136zM533 65v136h1v-136zM534 65v136h1v-136zM535 65v136h1v-136zM536 65v135h1v-135zM537 65v135h1v-135zM538 65v135h1v-135zM539 65v135h1v-135zM540 65v135h1v-135zM541 65v134h1v-134zM542 65v134h1v-134zM543 65v134h1v-134zM544 65v134h1v-134zM545 65v133h1v-133zM546 65v133h1v-133zM547 65v133h1v-133zM548 65v133h1v-133zM549 65v132h1v-132zM550 65v132h1v-132zM551 65v132h1v-132zM552 65v132h1v-132zM553 65v132h1v-132zM554 65v131h1v-131zM555 65v131h1v-131zM556 65v131h1v-131zM557 65v131h1v-131zM558 65v130h1v-130zM559 65v130h1v-130zM560 65v130h1v-130zM561 65v130h1v-130zM562 65v129h1v-129zM563 65v129h1v-129zM564 65v129h1v-129zM565 65v129h1v-129zM566 65v129h1v-129zM567 65v128h1v-128zM568 65v128h1v-128zM569 65v128h1v-128zM570 65v128h1v-128zM571 65v127h1v-127zM572 65v127h1v-127zM573 65v127h1v-127zM574 65v127h1v-127zM575 65v127h1v-127zM576 65v126h1v-126zM577 65v126h1v-126zM578 65v126h1v-126zM579 65v126h1v-126zM580 65v125h1v-125zM581 65v125h1v-125zM582 65v125h1v-125zM583 65v125h1v-125zM584 65v125h1v-125zM585 65v124h1v-124zM586 65v124h1v-124zM587 65v124h1v-124zM588 65v124h1v-124zM589 65v123h1v-123zM590 65v123h1v-123zM591 65v123h1v-123zM592 65v123h1v-123zM593 65v123h1v-123z"/>
</g>
<path d="M83.3 337.2 L89.7 334.5 L96.1 331.9 L102.5 329.3 L108.9 326.8 L115.3 324.2 L121.7 321.7 L128.1 319.3 L134.5 316.8 L140.9 314.4 L147.3 312.0 L153.7 309.7 L160.1 307.4 L166.5 305.0 L172.9 302.8 L179.3 300.5 L185.7 298.3 L192.1 296.1 L198.5 293.9 L204.9 291.7 L211.2 289.5 L217.6 287.4 L224.0 285.3 L230.4 283.2 L236.8 281.1 L243.2 279.1 L249.6 277.1 L256.0 275.0 L262.4 273.0 L268.8 271.1 L275.2 269.1 L281.6 267.1 L288.0 265.2 L294.4 263.3 L300.8 261.4 L307.2 259.5 L313.6 257.6 L320.0 255.8 L326.4 253.9 L332.8 252.1 L339.2 250.3 L345.6 248.5 L352.0 246.7 L358.4 244.9 L364.8 243.1 L371.2 241.4 L377.6 239.6 L384.0 237.9 L390.4 236.2 L396.8 234.5 L403.2 232.8 L409.6 231.1 L416.0 229.4 L422.4 227.8 L428.8 226.1 L435.2 224.5 L441.6 222.9 L448.0 221.3 L454.4 219.7 L460.8 218.1 L467.2 216.5 L473.5 214.9 L479.9 213.3 L486.3 211.8 L492.7 210.2 L499.1 208.7 L505.5 207.1 L511.9 205.6 L518.3 204.1 L524.7 202.6 L531.1 201.1 L537.5 199.6 L543.9 198.1 L550.3 196.7 L556.7 195.2 L563.1 193.7 L569.5 192.3 L575.9 190.9 L582.3 189.4 L588.7 188.0 L595.1 186.6 L595.1 386.2 L83.3 386.2 Z" fill="#fff"/>
<path d="M85.3 336.0 L90.6 333.8 L96.0 331.6 L101.3 329.5 L106.7 327.3 L112.0 325.2 L117.4 323.1 L122.7 321.0 L128.1 319.0 L133.4 316.9 L138.7 314.9 L144.1 312.9 L149.4 310.9 L154.8 309.0 L160.1 307.0 L165.5 305.1 L170.8 303.2 L176.1 301.3 L181.5 299.4 L186.8 297.6 L192.2 295.7 L197.5 293.9 L202.9 292.1 L208.2 290.3 L213.6 288.5 L218.9 286.7 L224.2 284.9 L229.6 283.2 L234.9 281.5 L240.3 279.7 L245.6 278.0 L251.0 276.3 L256.3 274.6 L261.7 273.0 L267.0 271.3 L272.3 269.7 L277.7 268.0 L283.0 266.4 L288.4 264.8 L293.7 263.2 L299.1 261.6 L304.4 260.0 L309.7 258.4 L315.1 256.9 L320.4 255.3 L325.8 253.8 L331.1 252.3 L336.5 250.7 L341.8 249.2 L347.2 247.7 L352.5 246.2" fill="none" stroke="#ccc62c" stroke-width="1.1"/>
<path d="M373.0 240.6 L377.0 239.5 L381.0 238.4 L385.0 237.3 L389.0 236.3 L393.0 235.2 L397.0 234.1" fill="none" stroke="#ccc62c" stroke-width="1.1"/>
<path d="M85.3 335.4 L90.4 333.3 L95.5 331.3 L100.5 329.2 L105.6 327.2 L110.7 325.1 L115.8 323.1 L120.8 321.2 L125.9 319.2 L131.0 317.3 L136.1 315.3 L141.2 313.4 L146.2 311.5 L151.3 309.7 L156.4 307.8 L161.5 305.9 L166.5 304.1 L171.6 302.3 L176.7 300.5 L181.8 298.7 L186.9 297.0 L191.9 295.2 L197.0 293.5 L202.1 291.7 L207.2 290.0 L212.2 288.3 L217.3 286.6 L222.4 284.9 L227.5 283.3 L232.6 281.6 L237.6 280.0 L242.7 278.4 L247.8 276.7 L252.9 275.1 L258.0 273.5 L263.0 271.9 L268.1 270.4 L273.2 268.8 L278.3 267.3 L283.3 265.7 L288.4 264.2 L293.5 262.7 L298.6 261.1 L303.7 259.6 L308.7 258.1 L313.8 256.7 L318.9 255.2 L324.0 253.7 L329.0 252.3 L334.1 250.8 L339.2 249.4 L344.3 247.9 L349.4 246.5 L354.4 245.1 L359.5 243.7 L364.6 242.3 L369.7 240.9 L374.7 239.5 L379.8 238.1 L384.9 236.8 L390.0 235.4 L395.1 234.1 L400.1 232.7 L405.2 231.4 L410.3 230.0 L415.4 228.7 L420.4 227.4 L425.5 226.1 L430.6 224.8 L435.7 223.5 L440.8 222.2 L445.8 220.9 L450.9 219.6 L456.0 218.3 L461.1 217.1 L466.2 215.8 L471.2 214.6 L476.3 213.3 L481.4 212.1 L486.5 210.8 L491.5 209.6 L496.6 208.4 L501.7 207.2 L506.8 205.9 L511.9 204.7 L516.9 203.5 L522.0 202.3 L527.1 201.2 L532.2 200.0 L537.2 198.8 L542.3 197.6 L547.4 196.4 L552.5 195.3 L557.6 194.1 L562.6 193.0 L567.7 191.8 L572.8 190.7 L577.9 189.5 L582.9 188.4 L588.0 187.3 L593.1 186.1" fill="none" stroke="#000" stroke-width="2.1" stroke-dasharray="7.7 6.6" stroke-dashoffset="0.5"/>
<g fill="none" stroke="#fff" stroke-width="2.1" stroke-dasharray="1.9 2.83"><path d="M353.5 65.8 L358.1 150.0 L361.2 219.4 L361.4 244.0"/><path d="M370.3 68.0 L364.4 150.0 L361.6 217.0"/><path d="M401.6 65.8 L408.6 150.0 L414.9 226.5"/><path d="M433.8 65.8 L427.9 150.0 L422.2 225.0"/><path d="M459.0 65.8 L464.7 150.0 L470.2 211.5 L470.6 216.0"/><path d="M527.4 65.8 L521.1 148.2 L519.0 203.5"/><path d="M552.7 65.8 L559.0 148.0 L561.1 193.0"/></g>
<g shape-rendering="crispEdges"><rect x="86.00" y="47.0" width="8.95" height="8.5" fill="#fefef9"/>
<rect x="94.45" y="47.0" width="8.95" height="8.5" fill="#fcfcec"/>
<rect x="102.90" y="47.0" width="8.95" height="8.5" fill="#f8f8dc"/>
<rect x="111.35" y="47.0" width="8.95" height="8.5" fill="#f4f4ca"/>
<rect x="119.80" y="47.0" width="8.95" height="8.5" fill="#efefb9"/>
<rect x="128.25" y="47.0" width="8.95" height="8.5" fill="#eaeaaa"/>
<rect x="136.70" y="47.0" width="8.95" height="8.5" fill="#e6e69b"/>
<rect x="145.15" y="47.0" width="8.95" height="8.5" fill="#e2e28c"/>
<rect x="153.60" y="47.0" width="8.95" height="8.5" fill="#dddd7c"/>
<rect x="162.05" y="47.0" width="8.95" height="8.5" fill="#d8d86d"/>
<rect x="170.50" y="47.0" width="8.95" height="8.5" fill="#d3d35d"/>
<rect x="178.95" y="47.0" width="8.95" height="8.5" fill="#cece4d"/>
<rect x="187.40" y="47.0" width="8.95" height="8.5" fill="#c8c83a"/>
<rect x="195.85" y="47.0" width="8.95" height="8.5" fill="#c2c228"/>
<rect x="204.30" y="47.0" width="8.95" height="8.5" fill="#bebe1f"/>
<rect x="212.75" y="47.0" width="8.95" height="8.5" fill="#b9b91a"/>
<rect x="221.20" y="47.0" width="8.95" height="8.5" fill="#b6b624"/>
<rect x="229.65" y="47.0" width="8.95" height="8.5" fill="#b2b22f"/>
<rect x="238.10" y="47.0" width="8.95" height="8.5" fill="#aeae3c"/>
<rect x="246.55" y="47.0" width="8.95" height="8.5" fill="#a9a94b"/>
<rect x="255.00" y="47.0" width="8.95" height="8.5" fill="#a5a55b"/>
<rect x="263.45" y="47.0" width="8.95" height="8.5" fill="#a2a26a"/>
<rect x="271.90" y="47.0" width="8.95" height="8.5" fill="#9e9e7a"/>
<rect x="280.35" y="47.0" width="8.95" height="8.5" fill="#9b9b8b"/>
<rect x="288.80" y="47.0" width="8.95" height="8.5" fill="#9797a1"/>
<rect x="297.25" y="47.0" width="8.95" height="8.5" fill="#9292ba"/>
<rect x="305.70" y="47.0" width="8.95" height="8.5" fill="#8d8dd1"/>
<rect x="314.15" y="47.0" width="8.95" height="8.5" fill="#8787e5"/>
<rect x="322.60" y="47.0" width="8.95" height="8.5" fill="#8282f6"/>
<rect x="331.05" y="47.0" width="8.95" height="8.5" fill="#8181fc"/>
<rect x="339.50" y="47.0" width="8.95" height="8.5" fill="#7e7efb"/>
<rect x="347.95" y="47.0" width="8.95" height="8.5" fill="#7979f2"/>
<rect x="356.40" y="47.0" width="8.95" height="8.5" fill="#7575e9"/>
<rect x="364.85" y="47.0" width="8.95" height="8.5" fill="#7070e1"/>
<rect x="373.30" y="47.0" width="8.95" height="8.5" fill="#6c6cd8"/>
<rect x="381.75" y="47.0" width="8.95" height="8.5" fill="#6868ce"/>
<rect x="390.20" y="47.0" width="8.95" height="8.5" fill="#6363c5"/>
<rect x="398.65" y="47.0" width="8.95" height="8.5" fill="#5e5ebb"/>
<rect x="407.10" y="47.0" width="8.95" height="8.5" fill="#5959b0"/>
<rect x="415.55" y="47.0" width="8.95" height="8.5" fill="#5555a4"/>
<rect x="424.00" y="47.0" width="8.95" height="8.5" fill="#505099"/>
<rect x="432.45" y="47.0" width="8.95" height="8.5" fill="#4a4a8f"/>
<rect x="440.90" y="47.0" width="8.95" height="8.5" fill="#454584"/>
<rect x="449.35" y="47.0" width="8.95" height="8.5" fill="#40407a"/>
<rect x="457.80" y="47.0" width="8.95" height="8.5" fill="#173d7f"/>
<rect x="466.25" y="47.0" width="8.95" height="8.5" fill="#273b7a"/>
<rect x="474.70" y="47.0" width="8.95" height="8.5" fill="#423670"/>
<rect x="483.15" y="47.0" width="8.95" height="8.5" fill="#5b3165"/>
<rect x="491.60" y="47.0" width="8.95" height="8.5" fill="#742c5c"/>
<rect x="500.05" y="47.0" width="8.95" height="8.5" fill="#8b2753"/>
<rect x="508.50" y="47.0" width="8.95" height="8.5" fill="#a12349"/>
<rect x="516.95" y="47.0" width="8.95" height="8.5" fill="#b61e3f"/>
<rect x="525.40" y="47.0" width="8.95" height="8.5" fill="#cc1934"/>
<rect x="533.85" y="47.0" width="8.95" height="8.5" fill="#e1142a"/>
<rect x="542.30" y="47.0" width="8.95" height="8.5" fill="#ec1021"/>
<rect x="550.75" y="47.0" width="8.95" height="8.5" fill="#d80e1c"/>
<rect x="559.20" y="47.0" width="8.95" height="8.5" fill="#a10a12"/>
<rect x="567.65" y="47.0" width="8.95" height="8.5" fill="#510408"/>
<rect x="576.10" y="47.0" width="8.95" height="8.5" fill="#000000"/>
<rect x="584.55" y="47.0" width="8.95" height="8.5" fill="#000000"/>
</g>
<rect x="85.3" y="46.9" width="507.8" height="8.7" fill="none" stroke="#000" stroke-width="2.2" rx="1.2"/>
<rect x="338.2" y="46" width="2" height="10" fill="#000"/>
<rect x="85.3" y="64.6" width="507.8" height="319.6" fill="none" stroke="#000" stroke-width="2.2"/>
<path d="M85.30 384.2v-5.6M85.30 64.6v5.6M93.76 384.2v-2.6M93.76 64.6v2.6M102.23 384.2v-2.6M102.23 64.6v2.6M110.69 384.2v-2.6M110.69 64.6v2.6M119.15 384.2v-2.6M119.15 64.6v2.6M127.62 384.2v-2.6M127.62 64.6v2.6M136.08 384.2v-2.6M136.08 64.6v2.6M144.54 384.2v-2.6M144.54 64.6v2.6M153.01 384.2v-2.6M153.01 64.6v2.6M161.47 384.2v-2.6M161.47 64.6v2.6M169.93 384.2v-5.6M169.93 64.6v5.6M178.40 384.2v-2.6M178.40 64.6v2.6M186.86 384.2v-2.6M186.86 64.6v2.6M195.32 384.2v-2.6M195.32 64.6v2.6M203.79 384.2v-2.6M203.79 64.6v2.6M212.25 384.2v-2.6M212.25 64.6v2.6M220.71 384.2v-2.6M220.71 64.6v2.6M229.18 384.2v-2.6M229.18 64.6v2.6M237.64 384.2v-2.6M237.64 64.6v2.6M246.10 384.2v-2.6M246.10 64.6v2.6M254.57 384.2v-5.6M254.57 64.6v5.6M263.03 384.2v-2.6M263.03 64.6v2.6M271.49 384.2v-2.6M271.49 64.6v2.6M279.96 384.2v-2.6M279.96 64.6v2.6M288.42 384.2v-2.6M288.42 64.6v2.6M296.88 384.2v-2.6M296.88 64.6v2.6M305.35 384.2v-2.6M305.35 64.6v2.6M313.81 384.2v-2.6M313.81 64.6v2.6M322.27 384.2v-2.6M322.27 64.6v2.6M330.74 384.2v-2.6M330.74 64.6v2.6M339.20 384.2v-5.6M339.20 64.6v5.6M347.66 384.2v-2.6M347.66 64.6v2.6M356.13 384.2v-2.6M356.13 64.6v2.6M364.59 384.2v-2.6M364.59 64.6v2.6M373.05 384.2v-2.6M373.05 64.6v2.6M381.52 384.2v-2.6M381.52 64.6v2.6M389.98 384.2v-2.6M389.98 64.6v2.6M398.44 384.2v-2.6M398.44 64.6v2.6M406.91 384.2v-2.6M406.91 64.6v2.6M415.37 384.2v-2.6M415.37 64.6v2.6M423.83 384.2v-5.6M423.83 64.6v5.6M432.30 384.2v-2.6M432.30 64.6v2.6M440.76 384.2v-2.6M440.76 64.6v2.6M449.22 384.2v-2.6M449.22 64.6v2.6M457.69 384.2v-2.6M457.69 64.6v2.6M466.15 384.2v-2.6M466.15 64.6v2.6M474.61 384.2v-2.6M474.61 64.6v2.6M483.08 384.2v-2.6M483.08 64.6v2.6M491.54 384.2v-2.6M491.54 64.6v2.6M500.00 384.2v-2.6M500.00 64.6v2.6M508.47 384.2v-5.6M508.47 64.6v5.6M516.93 384.2v-2.6M516.93 64.6v2.6M525.39 384.2v-2.6M525.39 64.6v2.6M533.86 384.2v-2.6M533.86 64.6v2.6M542.32 384.2v-2.6M542.32 64.6v2.6M550.78 384.2v-2.6M550.78 64.6v2.6M559.25 384.2v-2.6M559.25 64.6v2.6M567.71 384.2v-2.6M567.71 64.6v2.6M576.17 384.2v-2.6M576.17 64.6v2.6M584.64 384.2v-2.6M584.64 64.6v2.6M593.10 384.2v-5.6M593.10 64.6v5.6M85.3 384.20h5.0M593.1 384.20h-5.0M85.3 373.89h9.2M593.1 373.89h-9.2M85.3 363.58h5.0M593.1 363.58h-5.0M85.3 353.27h5.0M593.1 353.27h-5.0M85.3 342.96h5.0M593.1 342.96h-5.0M85.3 332.65h5.0M593.1 332.65h-5.0M85.3 322.34h9.2M593.1 322.34h-9.2M85.3 312.03h5.0M593.1 312.03h-5.0M85.3 301.72h5.0M593.1 301.72h-5.0M85.3 291.41h5.0M593.1 291.41h-5.0M85.3 281.10h5.0M593.1 281.10h-5.0M85.3 270.79h9.2M593.1 270.79h-9.2M85.3 260.48h5.0M593.1 260.48h-5.0M85.3 250.17h5.0M593.1 250.17h-5.0M85.3 239.86h5.0M593.1 239.86h-5.0M85.3 229.55h5.0M593.1 229.55h-5.0M85.3 219.25h9.2M593.1 219.25h-9.2M85.3 208.94h5.0M593.1 208.94h-5.0M85.3 198.63h5.0M593.1 198.63h-5.0M85.3 188.32h5.0M593.1 188.32h-5.0M85.3 178.01h5.0M593.1 178.01h-5.0M85.3 167.70h9.2M593.1 167.70h-9.2M85.3 157.39h5.0M593.1 157.39h-5.0M85.3 147.08h5.0M593.1 147.08h-5.0M85.3 136.77h5.0M593.1 136.77h-5.0M85.3 126.46h5.0M593.1 126.46h-5.0M85.3 116.15h9.2M593.1 116.15h-9.2M85.3 105.84h5.0M593.1 105.84h-5.0M85.3 95.53h5.0M593.1 95.53h-5.0M85.3 85.22h5.0M593.1 85.22h-5.0M85.3 74.91h5.0M593.1 74.91h-5.0M85.3 64.60h9.2M593.1 64.60h-9.2" fill="none" stroke="#000" stroke-width="2"/>
<g class="r">
<text x="247.70" y="16.80" font-size="18.50" textLength="180.60" lengthAdjust="spacingAndGlyphs" style="word-spacing:3.5px">Time to SNR=5 (hr)</text>
<text transform="translate(71.60 38.60) scale(1.070 1)" text-anchor="start" font-size="18.50">10<tspan dy="-8.4" font-size="12.0" font-weight="bold" class="b">2</tspan></text>
<text transform="translate(326.70 38.60) scale(1.070 1)" text-anchor="start" font-size="18.50">10<tspan dy="-8.4" font-size="12.0" font-weight="bold" class="b">3</tspan></text>
<text transform="translate(579.90 38.60) scale(1.070 1)" text-anchor="start" font-size="18.50">10<tspan dy="-8.4" font-size="12.0" font-weight="bold" class="b">4</tspan></text>
<text transform="translate(79.10 381.79) scale(1.070 1)" text-anchor="end" font-size="18.50">4000</text>
<text transform="translate(79.10 330.24) scale(1.070 1)" text-anchor="end" font-size="18.50">4500</text>
<text transform="translate(79.10 278.69) scale(1.070 1)" text-anchor="end" font-size="18.50">5000</text>
<text transform="translate(79.10 227.15) scale(1.070 1)" text-anchor="end" font-size="18.50">5500</text>
<text transform="translate(79.10 175.60) scale(1.070 1)" text-anchor="end" font-size="18.50">6000</text>
<text transform="translate(79.10 124.05) scale(1.070 1)" text-anchor="end" font-size="18.50">6500</text>
<text transform="translate(79.10 77.40) scale(1.070 1)" text-anchor="end" font-size="18.50">7000</text>
<text transform="translate(84.90 411.10) scale(1.070 1)" text-anchor="middle" font-size="18.50">0.4</text>
<text transform="translate(169.53 411.10) scale(1.070 1)" text-anchor="middle" font-size="18.50">0.5</text>
<text transform="translate(254.17 411.10) scale(1.070 1)" text-anchor="middle" font-size="18.50">0.6</text>
<text transform="translate(338.80 411.10) scale(1.070 1)" text-anchor="middle" font-size="18.50">0.7</text>
<text transform="translate(423.43 411.10) scale(1.070 1)" text-anchor="middle" font-size="18.50">0.8</text>
<text transform="translate(508.07 411.10) scale(1.070 1)" text-anchor="middle" font-size="18.50">0.9</text>
<text transform="translate(592.70 411.10) scale(1.070 1)" text-anchor="middle" font-size="18.50">1.0</text>
<text x="261.60" y="432.80" font-size="18.50" textLength="96.50" lengthAdjust="spacingAndGlyphs">Wavelength</text>
<text x="371.90" y="432.80" font-size="18.50" textLength="42.20" lengthAdjust="spacingAndGlyphs">(μm)</text>
<g transform="translate(18.6 255.8) rotate(-90)"><text x="0" y="0" font-size="18.5">T</text><text x="10.6" y="5.6" font-size="12" font-weight="bold" class="b">eff</text><text x="31.6" y="0" font-size="18.5" textLength="29" lengthAdjust="spacingAndGlyphs">(K)</text></g>
<g transform="translate(262.8 294.0) rotate(-16.1)" font-size="18.5">
<text x="-0.6" y="0" textLength="29.8" lengthAdjust="spacingAndGlyphs">IWA</text>
<text x="37.0" y="0" textLength="77.6" lengthAdjust="spacingAndGlyphs">Excluded</text>
<text x="122.8" y="0" textLength="5.2" lengthAdjust="spacingAndGlyphs">:</text>
<text x="134.3" y="0" textLength="38.8" lengthAdjust="spacingAndGlyphs">D=2</text>
<text x="186.0" y="0" textLength="16.6" lengthAdjust="spacingAndGlyphs">m</text>
</g>
<text transform="translate(467.60 112.40) scale(1.070 1)" text-anchor="start" font-size="18.50" style="fill:#fff;stroke:#fff">10<tspan dy="-8.4" font-size="12.0" font-weight="bold" class="b">−10</tspan></text>
</g>
<g font-weight="bold">
<text x="473.30" y="286.30" font-size="14.20" textLength="95.80" lengthAdjust="spacingAndGlyphs" style="word-spacing:2.0px">Cool Neptune</text>
<text x="505.80" y="301.30" font-size="14.20" textLength="63.30" lengthAdjust="spacingAndGlyphs" style="letter-spacing:0.6px;word-spacing:3px">d=10 pc</text>
<text x="527.8" y="315.0" font-size="14.2">N<tspan dy="3.4" font-size="8.8">ez</tspan><tspan dy="-3.4" dx="0.5" textLength="20" lengthAdjust="spacing">=1</tspan></text>
<text x="501.30" y="332.00" font-size="15.20" textLength="67.80" lengthAdjust="spacingAndGlyphs" style="letter-spacing:0.8px">λ/Δλ=70</text>
<text x="516.3" y="347.6" font-size="14.2" style="letter-spacing:1.1px">C=10<tspan dy="-6.2" font-size="9.4" style="letter-spacing:0">−9</tspan></text>
<text x="518.20" y="361.40" font-size="14.20" textLength="50.90" lengthAdjust="spacingAndGlyphs" style="letter-spacing:0.6px;word-spacing:2px">D=2 m</text>
</g>
</svg>
</body></html>
